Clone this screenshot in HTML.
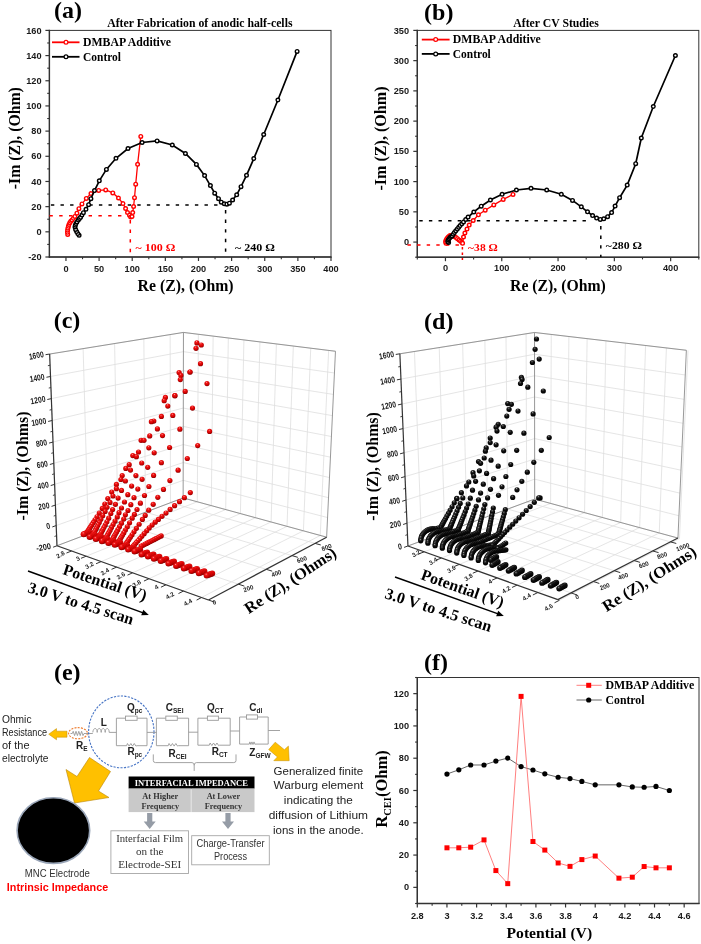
<!DOCTYPE html><html><head><meta charset="utf-8"><style>html,body{margin:0;padding:0;background:#fff;width:701px;height:944px;overflow:hidden}svg{display:block;will-change:transform}</style></head><body><svg width="701" height="944" viewBox="0 0 701 944"><defs>
<radialGradient id="rs" cx="0.45" cy="0.35" r="0.65" fx="0.42" fy="0.25">
<stop offset="0" stop-color="#ff9a9a"/><stop offset="0.25" stop-color="#f01818"/><stop offset="0.7" stop-color="#d00000"/><stop offset="1" stop-color="#8a0000"/></radialGradient>
<radialGradient id="ks" cx="0.45" cy="0.35" r="0.65" fx="0.42" fy="0.25">
<stop offset="0" stop-color="#b0b0b0"/><stop offset="0.18" stop-color="#3a3a3a"/><stop offset="0.5" stop-color="#0c0c0c"/><stop offset="1" stop-color="#000"/></radialGradient>
</defs><rect x="0" y="0" width="701" height="944" fill="#fff"/>
<text x="54.1" y="18.4" font-family="Liberation Serif" font-weight="bold" font-size="24" fill="#000">(a)</text>
<text x="107.2" y="26.6" font-family="Liberation Serif" font-weight="bold" font-size="11.7" fill="#000" textLength="185.3" lengthAdjust="spacingAndGlyphs">After Fabrication of anodic half-cells</text>
<rect x="49.4" y="30.4" width="281.6" height="226.6" fill="none" stroke="#333" stroke-width="1"/>
<line x1="49.4" y1="29.8" x2="49.4" y2="257.6" stroke="#333" stroke-width="1.4"/>
<line x1="48.8" y1="257" x2="331.6" y2="257" stroke="#333" stroke-width="1.4"/>
<line x1="65.96" y1="257" x2="65.96" y2="261" stroke="#333" stroke-width="1.2"/>
<line x1="99.09" y1="257" x2="99.09" y2="261" stroke="#333" stroke-width="1.2"/>
<line x1="132.22" y1="257" x2="132.22" y2="261" stroke="#333" stroke-width="1.2"/>
<line x1="165.35" y1="257" x2="165.35" y2="261" stroke="#333" stroke-width="1.2"/>
<line x1="198.48" y1="257" x2="198.48" y2="261" stroke="#333" stroke-width="1.2"/>
<line x1="231.61" y1="257" x2="231.61" y2="261" stroke="#333" stroke-width="1.2"/>
<line x1="264.74" y1="257" x2="264.74" y2="261" stroke="#333" stroke-width="1.2"/>
<line x1="297.87" y1="257" x2="297.87" y2="261" stroke="#333" stroke-width="1.2"/>
<line x1="331" y1="257" x2="331" y2="261" stroke="#333" stroke-width="1.2"/>
<line x1="82.53" y1="257" x2="82.53" y2="259.2" stroke="#333" stroke-width="1.1"/>
<line x1="115.66" y1="257" x2="115.66" y2="259.2" stroke="#333" stroke-width="1.1"/>
<line x1="148.79" y1="257" x2="148.79" y2="259.2" stroke="#333" stroke-width="1.1"/>
<line x1="181.92" y1="257" x2="181.92" y2="259.2" stroke="#333" stroke-width="1.1"/>
<line x1="215.05" y1="257" x2="215.05" y2="259.2" stroke="#333" stroke-width="1.1"/>
<line x1="248.18" y1="257" x2="248.18" y2="259.2" stroke="#333" stroke-width="1.1"/>
<line x1="281.31" y1="257" x2="281.31" y2="259.2" stroke="#333" stroke-width="1.1"/>
<line x1="314.44" y1="257" x2="314.44" y2="259.2" stroke="#333" stroke-width="1.1"/>
<line x1="45.4" y1="257" x2="49.4" y2="257" stroke="#333" stroke-width="1.2"/>
<line x1="45.4" y1="231.82" x2="49.4" y2="231.82" stroke="#333" stroke-width="1.2"/>
<line x1="45.4" y1="206.64" x2="49.4" y2="206.64" stroke="#333" stroke-width="1.2"/>
<line x1="45.4" y1="181.47" x2="49.4" y2="181.47" stroke="#333" stroke-width="1.2"/>
<line x1="45.4" y1="156.29" x2="49.4" y2="156.29" stroke="#333" stroke-width="1.2"/>
<line x1="45.4" y1="131.11" x2="49.4" y2="131.11" stroke="#333" stroke-width="1.2"/>
<line x1="45.4" y1="105.93" x2="49.4" y2="105.93" stroke="#333" stroke-width="1.2"/>
<line x1="45.4" y1="80.76" x2="49.4" y2="80.76" stroke="#333" stroke-width="1.2"/>
<line x1="45.4" y1="55.58" x2="49.4" y2="55.58" stroke="#333" stroke-width="1.2"/>
<line x1="45.4" y1="30.4" x2="49.4" y2="30.4" stroke="#333" stroke-width="1.2"/>
<line x1="47.2" y1="244.41" x2="49.4" y2="244.41" stroke="#333" stroke-width="1.1"/>
<line x1="47.2" y1="219.23" x2="49.4" y2="219.23" stroke="#333" stroke-width="1.1"/>
<line x1="47.2" y1="194.06" x2="49.4" y2="194.06" stroke="#333" stroke-width="1.1"/>
<line x1="47.2" y1="168.88" x2="49.4" y2="168.88" stroke="#333" stroke-width="1.1"/>
<line x1="47.2" y1="143.7" x2="49.4" y2="143.7" stroke="#333" stroke-width="1.1"/>
<line x1="47.2" y1="118.52" x2="49.4" y2="118.52" stroke="#333" stroke-width="1.1"/>
<line x1="47.2" y1="93.34" x2="49.4" y2="93.34" stroke="#333" stroke-width="1.1"/>
<line x1="47.2" y1="68.17" x2="49.4" y2="68.17" stroke="#333" stroke-width="1.1"/>
<line x1="47.2" y1="42.99" x2="49.4" y2="42.99" stroke="#333" stroke-width="1.1"/>
<text x="65.96" y="272" font-family="Liberation Sans" font-weight="bold" font-size="9.2" fill="#1a1a1a" text-anchor="middle">0</text>
<text x="99.09" y="272" font-family="Liberation Sans" font-weight="bold" font-size="9.2" fill="#1a1a1a" text-anchor="middle">50</text>
<text x="132.22" y="272" font-family="Liberation Sans" font-weight="bold" font-size="9.2" fill="#1a1a1a" text-anchor="middle">100</text>
<text x="165.35" y="272" font-family="Liberation Sans" font-weight="bold" font-size="9.2" fill="#1a1a1a" text-anchor="middle">150</text>
<text x="198.48" y="272" font-family="Liberation Sans" font-weight="bold" font-size="9.2" fill="#1a1a1a" text-anchor="middle">200</text>
<text x="231.61" y="272" font-family="Liberation Sans" font-weight="bold" font-size="9.2" fill="#1a1a1a" text-anchor="middle">250</text>
<text x="264.74" y="272" font-family="Liberation Sans" font-weight="bold" font-size="9.2" fill="#1a1a1a" text-anchor="middle">300</text>
<text x="297.87" y="272" font-family="Liberation Sans" font-weight="bold" font-size="9.2" fill="#1a1a1a" text-anchor="middle">350</text>
<text x="331" y="272" font-family="Liberation Sans" font-weight="bold" font-size="9.2" fill="#1a1a1a" text-anchor="middle">400</text>
<text x="41.6" y="260.1" font-family="Liberation Sans" font-weight="bold" font-size="9.2" fill="#1a1a1a" text-anchor="end">-20</text>
<text x="41.6" y="234.92" font-family="Liberation Sans" font-weight="bold" font-size="9.2" fill="#1a1a1a" text-anchor="end">0</text>
<text x="41.6" y="209.74" font-family="Liberation Sans" font-weight="bold" font-size="9.2" fill="#1a1a1a" text-anchor="end">20</text>
<text x="41.6" y="184.57" font-family="Liberation Sans" font-weight="bold" font-size="9.2" fill="#1a1a1a" text-anchor="end">40</text>
<text x="41.6" y="159.39" font-family="Liberation Sans" font-weight="bold" font-size="9.2" fill="#1a1a1a" text-anchor="end">60</text>
<text x="41.6" y="134.21" font-family="Liberation Sans" font-weight="bold" font-size="9.2" fill="#1a1a1a" text-anchor="end">80</text>
<text x="41.6" y="109.03" font-family="Liberation Sans" font-weight="bold" font-size="9.2" fill="#1a1a1a" text-anchor="end">100</text>
<text x="41.6" y="83.86" font-family="Liberation Sans" font-weight="bold" font-size="9.2" fill="#1a1a1a" text-anchor="end">120</text>
<text x="41.6" y="58.68" font-family="Liberation Sans" font-weight="bold" font-size="9.2" fill="#1a1a1a" text-anchor="end">140</text>
<text x="41.6" y="33.5" font-family="Liberation Sans" font-weight="bold" font-size="9.2" fill="#1a1a1a" text-anchor="end">160</text>
<line x1="49.4" y1="205" x2="226" y2="205" stroke="#000" stroke-width="1.5" stroke-dasharray="3.4,6.2" stroke-dashoffset="-1.5"/>
<line x1="225.6" y1="210" x2="225.6" y2="257" stroke="#000" stroke-width="1.5" stroke-dasharray="3.4,6.2"/>
<line x1="49.4" y1="215.8" x2="130.5" y2="215.8" stroke="#f00" stroke-width="1.5" stroke-dasharray="3.4,6.4"/>
<line x1="130.3" y1="220" x2="130.3" y2="257" stroke="#f00" stroke-width="1.5" stroke-dasharray="3.4,6.2"/>
<polyline points="67.7,234.4 67.5,232.3 67.6,230.2 67.9,228.2 68.4,226.3 69,224.5 69.8,222.8 70.8,221.3 72,219.9 73.4,218.3 74.9,216.4 76.9,213.2 78.9,208.7 82,203.9 86.3,198.4 91,193.6 98.7,190.4 105.7,189.9 112.8,192.9 118.5,198 123,203.6 125.6,208.5 127.5,212.6 129.5,215.2 130.7,217 132,216.5 132.7,212.6 133.6,206.5 134.5,197.7 135.7,184.2 137.6,164.3 140.8,136.4" fill="none" stroke="#f00" stroke-width="1.3"/>
<circle cx="67.7" cy="234.4" r="1.8" fill="#fff" stroke="#f00" stroke-width="1.4"/>
<circle cx="67.5" cy="232.3" r="1.8" fill="#fff" stroke="#f00" stroke-width="1.4"/>
<circle cx="67.6" cy="230.2" r="1.8" fill="#fff" stroke="#f00" stroke-width="1.4"/>
<circle cx="67.9" cy="228.2" r="1.8" fill="#fff" stroke="#f00" stroke-width="1.4"/>
<circle cx="68.4" cy="226.3" r="1.8" fill="#fff" stroke="#f00" stroke-width="1.4"/>
<circle cx="69" cy="224.5" r="1.8" fill="#fff" stroke="#f00" stroke-width="1.4"/>
<circle cx="69.8" cy="222.8" r="1.8" fill="#fff" stroke="#f00" stroke-width="1.4"/>
<circle cx="70.8" cy="221.3" r="1.8" fill="#fff" stroke="#f00" stroke-width="1.4"/>
<circle cx="72" cy="219.9" r="1.8" fill="#fff" stroke="#f00" stroke-width="1.4"/>
<circle cx="73.4" cy="218.3" r="1.8" fill="#fff" stroke="#f00" stroke-width="1.4"/>
<circle cx="74.9" cy="216.4" r="1.8" fill="#fff" stroke="#f00" stroke-width="1.4"/>
<circle cx="76.9" cy="213.2" r="1.8" fill="#fff" stroke="#f00" stroke-width="1.4"/>
<circle cx="78.9" cy="208.7" r="1.8" fill="#fff" stroke="#f00" stroke-width="1.4"/>
<circle cx="82" cy="203.9" r="1.8" fill="#fff" stroke="#f00" stroke-width="1.4"/>
<circle cx="86.3" cy="198.4" r="1.8" fill="#fff" stroke="#f00" stroke-width="1.4"/>
<circle cx="91" cy="193.6" r="1.8" fill="#fff" stroke="#f00" stroke-width="1.4"/>
<circle cx="98.7" cy="190.4" r="1.8" fill="#fff" stroke="#f00" stroke-width="1.4"/>
<circle cx="105.7" cy="189.9" r="1.8" fill="#fff" stroke="#f00" stroke-width="1.4"/>
<circle cx="112.8" cy="192.9" r="1.8" fill="#fff" stroke="#f00" stroke-width="1.4"/>
<circle cx="118.5" cy="198" r="1.8" fill="#fff" stroke="#f00" stroke-width="1.4"/>
<circle cx="123" cy="203.6" r="1.8" fill="#fff" stroke="#f00" stroke-width="1.4"/>
<circle cx="125.6" cy="208.5" r="1.8" fill="#fff" stroke="#f00" stroke-width="1.4"/>
<circle cx="127.5" cy="212.6" r="1.8" fill="#fff" stroke="#f00" stroke-width="1.4"/>
<circle cx="129.5" cy="215.2" r="1.8" fill="#fff" stroke="#f00" stroke-width="1.4"/>
<circle cx="130.7" cy="217" r="1.8" fill="#fff" stroke="#f00" stroke-width="1.4"/>
<circle cx="132" cy="216.5" r="1.8" fill="#fff" stroke="#f00" stroke-width="1.4"/>
<circle cx="132.7" cy="212.6" r="1.8" fill="#fff" stroke="#f00" stroke-width="1.4"/>
<circle cx="133.6" cy="206.5" r="1.8" fill="#fff" stroke="#f00" stroke-width="1.4"/>
<circle cx="134.5" cy="197.7" r="1.8" fill="#fff" stroke="#f00" stroke-width="1.4"/>
<circle cx="135.7" cy="184.2" r="1.8" fill="#fff" stroke="#f00" stroke-width="1.4"/>
<circle cx="137.6" cy="164.3" r="1.8" fill="#fff" stroke="#f00" stroke-width="1.4"/>
<circle cx="140.8" cy="136.4" r="1.8" fill="#fff" stroke="#f00" stroke-width="1.4"/>
<polyline points="79.1,235.3 77.8,233.6 76.6,231.6 75.6,229.4 75,227 75.3,225.2 76,223.6 77,221.9 78.3,220.1 79.4,218.6 80.6,217.3 82,215 83.4,212.7 86,209.3 88.6,204.7 90.9,198.7 94.5,190.6 99.3,180.8 106.4,169.4 116,158.3 128,148.5 142.1,142.5 157.1,140.9 172.3,145 185.4,153.5 196.4,164.4 204.6,175.6 210.4,185.6 214.7,193.2 218.5,198.7 221.3,202.2 224.3,203.8 226.9,204.2 229.4,203.2 232.6,200 236.7,194.8 241,186.7 246.5,175.3 253.8,158.6 263.7,134.5 277.9,100 297.1,51.4" fill="none" stroke="#000" stroke-width="1.7"/>
<circle cx="79.1" cy="235.3" r="1.8" fill="#fff" stroke="#000" stroke-width="1.4"/>
<circle cx="77.8" cy="233.6" r="1.8" fill="#fff" stroke="#000" stroke-width="1.4"/>
<circle cx="76.6" cy="231.6" r="1.8" fill="#fff" stroke="#000" stroke-width="1.4"/>
<circle cx="75.6" cy="229.4" r="1.8" fill="#fff" stroke="#000" stroke-width="1.4"/>
<circle cx="75" cy="227" r="1.8" fill="#fff" stroke="#000" stroke-width="1.4"/>
<circle cx="75.3" cy="225.2" r="1.8" fill="#fff" stroke="#000" stroke-width="1.4"/>
<circle cx="76" cy="223.6" r="1.8" fill="#fff" stroke="#000" stroke-width="1.4"/>
<circle cx="77" cy="221.9" r="1.8" fill="#fff" stroke="#000" stroke-width="1.4"/>
<circle cx="78.3" cy="220.1" r="1.8" fill="#fff" stroke="#000" stroke-width="1.4"/>
<circle cx="79.4" cy="218.6" r="1.8" fill="#fff" stroke="#000" stroke-width="1.4"/>
<circle cx="80.6" cy="217.3" r="1.8" fill="#fff" stroke="#000" stroke-width="1.4"/>
<circle cx="82" cy="215" r="1.8" fill="#fff" stroke="#000" stroke-width="1.4"/>
<circle cx="83.4" cy="212.7" r="1.8" fill="#fff" stroke="#000" stroke-width="1.4"/>
<circle cx="86" cy="209.3" r="1.8" fill="#fff" stroke="#000" stroke-width="1.4"/>
<circle cx="88.6" cy="204.7" r="1.8" fill="#fff" stroke="#000" stroke-width="1.4"/>
<circle cx="90.9" cy="198.7" r="1.8" fill="#fff" stroke="#000" stroke-width="1.4"/>
<circle cx="94.5" cy="190.6" r="1.8" fill="#fff" stroke="#000" stroke-width="1.4"/>
<circle cx="99.3" cy="180.8" r="1.8" fill="#fff" stroke="#000" stroke-width="1.4"/>
<circle cx="106.4" cy="169.4" r="1.8" fill="#fff" stroke="#000" stroke-width="1.4"/>
<circle cx="116" cy="158.3" r="1.8" fill="#fff" stroke="#000" stroke-width="1.4"/>
<circle cx="128" cy="148.5" r="1.8" fill="#fff" stroke="#000" stroke-width="1.4"/>
<circle cx="142.1" cy="142.5" r="1.8" fill="#fff" stroke="#000" stroke-width="1.4"/>
<circle cx="157.1" cy="140.9" r="1.8" fill="#fff" stroke="#000" stroke-width="1.4"/>
<circle cx="172.3" cy="145" r="1.8" fill="#fff" stroke="#000" stroke-width="1.4"/>
<circle cx="185.4" cy="153.5" r="1.8" fill="#fff" stroke="#000" stroke-width="1.4"/>
<circle cx="196.4" cy="164.4" r="1.8" fill="#fff" stroke="#000" stroke-width="1.4"/>
<circle cx="204.6" cy="175.6" r="1.8" fill="#fff" stroke="#000" stroke-width="1.4"/>
<circle cx="210.4" cy="185.6" r="1.8" fill="#fff" stroke="#000" stroke-width="1.4"/>
<circle cx="214.7" cy="193.2" r="1.8" fill="#fff" stroke="#000" stroke-width="1.4"/>
<circle cx="218.5" cy="198.7" r="1.8" fill="#fff" stroke="#000" stroke-width="1.4"/>
<circle cx="221.3" cy="202.2" r="1.8" fill="#fff" stroke="#000" stroke-width="1.4"/>
<circle cx="224.3" cy="203.8" r="1.8" fill="#fff" stroke="#000" stroke-width="1.4"/>
<circle cx="226.9" cy="204.2" r="1.8" fill="#fff" stroke="#000" stroke-width="1.4"/>
<circle cx="229.4" cy="203.2" r="1.8" fill="#fff" stroke="#000" stroke-width="1.4"/>
<circle cx="232.6" cy="200" r="1.8" fill="#fff" stroke="#000" stroke-width="1.4"/>
<circle cx="236.7" cy="194.8" r="1.8" fill="#fff" stroke="#000" stroke-width="1.4"/>
<circle cx="241" cy="186.7" r="1.8" fill="#fff" stroke="#000" stroke-width="1.4"/>
<circle cx="246.5" cy="175.3" r="1.8" fill="#fff" stroke="#000" stroke-width="1.4"/>
<circle cx="253.8" cy="158.6" r="1.8" fill="#fff" stroke="#000" stroke-width="1.4"/>
<circle cx="263.7" cy="134.5" r="1.8" fill="#fff" stroke="#000" stroke-width="1.4"/>
<circle cx="277.9" cy="100" r="1.8" fill="#fff" stroke="#000" stroke-width="1.4"/>
<circle cx="297.1" cy="51.4" r="1.8" fill="#fff" stroke="#000" stroke-width="1.4"/>
<line x1="52" y1="42.3" x2="79.5" y2="42.3" stroke="#f00" stroke-width="1.8"/>
<circle cx="66" cy="42.3" r="1.9" fill="#fff" stroke="#f00" stroke-width="1.25"/>
<line x1="52" y1="56.8" x2="79.5" y2="56.8" stroke="#000" stroke-width="1.8"/>
<circle cx="66" cy="56.8" r="1.9" fill="#fff" stroke="#000" stroke-width="1.25"/>
<text x="83" y="45.8" font-family="Liberation Serif" font-weight="bold" font-size="11.6" fill="#000" textLength="88" lengthAdjust="spacingAndGlyphs">DMBAP Additive</text>
<text x="83" y="60.8" font-family="Liberation Serif" font-weight="bold" font-size="11.6" fill="#000" textLength="38" lengthAdjust="spacingAndGlyphs">Control</text>
<text x="135.6" y="251.4" font-family="Liberation Serif" font-weight="bold" font-size="11" fill="#f00" textLength="39.8" lengthAdjust="spacingAndGlyphs">~ 100 &#937;</text>
<text x="235" y="251.4" font-family="Liberation Serif" font-weight="bold" font-size="11" fill="#000" textLength="40" lengthAdjust="spacingAndGlyphs">~ 240 &#937;</text>
<text x="137.6" y="291" font-family="Liberation Serif" font-weight="bold" font-size="16" fill="#000" textLength="96" lengthAdjust="spacingAndGlyphs">Re (Z), (Ohm)</text>
<text transform="translate(19.9,138.2) rotate(-90)" text-anchor="middle" font-family="Liberation Serif" font-weight="bold" font-size="16" textLength="102" lengthAdjust="spacingAndGlyphs">-Im (Z), (Ohm)</text>
<text x="424.1" y="20.3" font-family="Liberation Serif" font-weight="bold" font-size="24" fill="#000">(b)</text>
<text x="513.3" y="27.1" font-family="Liberation Serif" font-weight="bold" font-size="11.7" fill="#000" textLength="85.6" lengthAdjust="spacingAndGlyphs">After CV Studies</text>
<rect x="417.3" y="30.4" width="281.5" height="226.8" fill="none" stroke="#333" stroke-width="1"/>
<line x1="417.3" y1="29.8" x2="417.3" y2="257.8" stroke="#333" stroke-width="1.4"/>
<line x1="416.7" y1="257.2" x2="699.4" y2="257.2" stroke="#333" stroke-width="1.4"/>
<line x1="445.45" y1="257.2" x2="445.45" y2="261.2" stroke="#333" stroke-width="1.2"/>
<line x1="501.75" y1="257.2" x2="501.75" y2="261.2" stroke="#333" stroke-width="1.2"/>
<line x1="558.05" y1="257.2" x2="558.05" y2="261.2" stroke="#333" stroke-width="1.2"/>
<line x1="614.35" y1="257.2" x2="614.35" y2="261.2" stroke="#333" stroke-width="1.2"/>
<line x1="670.65" y1="257.2" x2="670.65" y2="261.2" stroke="#333" stroke-width="1.2"/>
<line x1="417.3" y1="257.2" x2="417.3" y2="259.4" stroke="#333" stroke-width="1.1"/>
<line x1="473.6" y1="257.2" x2="473.6" y2="259.4" stroke="#333" stroke-width="1.1"/>
<line x1="529.9" y1="257.2" x2="529.9" y2="259.4" stroke="#333" stroke-width="1.1"/>
<line x1="586.2" y1="257.2" x2="586.2" y2="259.4" stroke="#333" stroke-width="1.1"/>
<line x1="642.5" y1="257.2" x2="642.5" y2="259.4" stroke="#333" stroke-width="1.1"/>
<line x1="698.8" y1="257.2" x2="698.8" y2="259.4" stroke="#333" stroke-width="1.1"/>
<line x1="413.3" y1="242.08" x2="417.3" y2="242.08" stroke="#333" stroke-width="1.2"/>
<line x1="413.3" y1="211.84" x2="417.3" y2="211.84" stroke="#333" stroke-width="1.2"/>
<line x1="413.3" y1="181.6" x2="417.3" y2="181.6" stroke="#333" stroke-width="1.2"/>
<line x1="413.3" y1="151.36" x2="417.3" y2="151.36" stroke="#333" stroke-width="1.2"/>
<line x1="413.3" y1="121.12" x2="417.3" y2="121.12" stroke="#333" stroke-width="1.2"/>
<line x1="413.3" y1="90.88" x2="417.3" y2="90.88" stroke="#333" stroke-width="1.2"/>
<line x1="413.3" y1="60.64" x2="417.3" y2="60.64" stroke="#333" stroke-width="1.2"/>
<line x1="413.3" y1="30.4" x2="417.3" y2="30.4" stroke="#333" stroke-width="1.2"/>
<line x1="415.1" y1="257.2" x2="417.3" y2="257.2" stroke="#333" stroke-width="1.1"/>
<line x1="415.1" y1="226.96" x2="417.3" y2="226.96" stroke="#333" stroke-width="1.1"/>
<line x1="415.1" y1="196.72" x2="417.3" y2="196.72" stroke="#333" stroke-width="1.1"/>
<line x1="415.1" y1="166.48" x2="417.3" y2="166.48" stroke="#333" stroke-width="1.1"/>
<line x1="415.1" y1="136.24" x2="417.3" y2="136.24" stroke="#333" stroke-width="1.1"/>
<line x1="415.1" y1="106" x2="417.3" y2="106" stroke="#333" stroke-width="1.1"/>
<line x1="415.1" y1="75.76" x2="417.3" y2="75.76" stroke="#333" stroke-width="1.1"/>
<line x1="415.1" y1="45.52" x2="417.3" y2="45.52" stroke="#333" stroke-width="1.1"/>
<text x="445.45" y="271.4" font-family="Liberation Sans" font-weight="bold" font-size="9.2" fill="#1a1a1a" text-anchor="middle">0</text>
<text x="501.75" y="271.4" font-family="Liberation Sans" font-weight="bold" font-size="9.2" fill="#1a1a1a" text-anchor="middle">100</text>
<text x="558.05" y="271.4" font-family="Liberation Sans" font-weight="bold" font-size="9.2" fill="#1a1a1a" text-anchor="middle">200</text>
<text x="614.35" y="271.4" font-family="Liberation Sans" font-weight="bold" font-size="9.2" fill="#1a1a1a" text-anchor="middle">300</text>
<text x="670.65" y="271.4" font-family="Liberation Sans" font-weight="bold" font-size="9.2" fill="#1a1a1a" text-anchor="middle">400</text>
<text x="409" y="245.18" font-family="Liberation Sans" font-weight="bold" font-size="9.2" fill="#1a1a1a" text-anchor="end">0</text>
<text x="409" y="214.94" font-family="Liberation Sans" font-weight="bold" font-size="9.2" fill="#1a1a1a" text-anchor="end">50</text>
<text x="409" y="184.7" font-family="Liberation Sans" font-weight="bold" font-size="9.2" fill="#1a1a1a" text-anchor="end">100</text>
<text x="409" y="154.46" font-family="Liberation Sans" font-weight="bold" font-size="9.2" fill="#1a1a1a" text-anchor="end">150</text>
<text x="409" y="124.22" font-family="Liberation Sans" font-weight="bold" font-size="9.2" fill="#1a1a1a" text-anchor="end">200</text>
<text x="409" y="93.98" font-family="Liberation Sans" font-weight="bold" font-size="9.2" fill="#1a1a1a" text-anchor="end">250</text>
<text x="409" y="63.74" font-family="Liberation Sans" font-weight="bold" font-size="9.2" fill="#1a1a1a" text-anchor="end">300</text>
<text x="409" y="33.5" font-family="Liberation Sans" font-weight="bold" font-size="9.2" fill="#1a1a1a" text-anchor="end">350</text>
<line x1="417.3" y1="220.7" x2="591" y2="220.7" stroke="#000" stroke-width="1.5" stroke-dasharray="3.4,6.2" stroke-dashoffset="-2"/>
<line x1="600.8" y1="226" x2="600.8" y2="257" stroke="#000" stroke-width="1.5" stroke-dasharray="3.4,6.2"/>
<line x1="407.5" y1="245" x2="462" y2="245" stroke="#f00" stroke-width="1.5" stroke-dasharray="3.4,6.2"/>
<line x1="462.4" y1="247" x2="462.4" y2="260" stroke="#f00" stroke-width="1.5" stroke-dasharray="2.5,3"/>
<polyline points="446,243.3 445.6,241.8 446,240.2 446.8,238.8 447.8,237.5 448.8,236.4 450,235.6 451.5,235.5 453,235.9 454.5,236.6 456,237.6 457.5,238.7 459,239.9 460.5,241.1 461.8,242.3 462.6,243.3 463.5,237 464.9,233 467,229.1 469.2,225.1 473.2,220.5 478.4,214.8 485.2,210.2 493.8,204.9 503.2,199.4 513,194.4" fill="none" stroke="#f00" stroke-width="1.3"/>
<circle cx="446" cy="243.3" r="1.8" fill="#fff" stroke="#f00" stroke-width="1.4"/>
<circle cx="445.6" cy="241.8" r="1.8" fill="#fff" stroke="#f00" stroke-width="1.4"/>
<circle cx="446" cy="240.2" r="1.8" fill="#fff" stroke="#f00" stroke-width="1.4"/>
<circle cx="446.8" cy="238.8" r="1.8" fill="#fff" stroke="#f00" stroke-width="1.4"/>
<circle cx="447.8" cy="237.5" r="1.8" fill="#fff" stroke="#f00" stroke-width="1.4"/>
<circle cx="448.8" cy="236.4" r="1.8" fill="#fff" stroke="#f00" stroke-width="1.4"/>
<circle cx="450" cy="235.6" r="1.8" fill="#fff" stroke="#f00" stroke-width="1.4"/>
<circle cx="451.5" cy="235.5" r="1.8" fill="#fff" stroke="#f00" stroke-width="1.4"/>
<circle cx="453" cy="235.9" r="1.8" fill="#fff" stroke="#f00" stroke-width="1.4"/>
<circle cx="454.5" cy="236.6" r="1.8" fill="#fff" stroke="#f00" stroke-width="1.4"/>
<circle cx="456" cy="237.6" r="1.8" fill="#fff" stroke="#f00" stroke-width="1.4"/>
<circle cx="457.5" cy="238.7" r="1.8" fill="#fff" stroke="#f00" stroke-width="1.4"/>
<circle cx="459" cy="239.9" r="1.8" fill="#fff" stroke="#f00" stroke-width="1.4"/>
<circle cx="460.5" cy="241.1" r="1.8" fill="#fff" stroke="#f00" stroke-width="1.4"/>
<circle cx="461.8" cy="242.3" r="1.8" fill="#fff" stroke="#f00" stroke-width="1.4"/>
<circle cx="462.6" cy="243.3" r="1.8" fill="#fff" stroke="#f00" stroke-width="1.4"/>
<circle cx="463.5" cy="237" r="1.8" fill="#fff" stroke="#f00" stroke-width="1.4"/>
<circle cx="464.9" cy="233" r="1.8" fill="#fff" stroke="#f00" stroke-width="1.4"/>
<circle cx="467" cy="229.1" r="1.8" fill="#fff" stroke="#f00" stroke-width="1.4"/>
<circle cx="469.2" cy="225.1" r="1.8" fill="#fff" stroke="#f00" stroke-width="1.4"/>
<circle cx="473.2" cy="220.5" r="1.8" fill="#fff" stroke="#f00" stroke-width="1.4"/>
<circle cx="478.4" cy="214.8" r="1.8" fill="#fff" stroke="#f00" stroke-width="1.4"/>
<circle cx="485.2" cy="210.2" r="1.8" fill="#fff" stroke="#f00" stroke-width="1.4"/>
<circle cx="493.8" cy="204.9" r="1.8" fill="#fff" stroke="#f00" stroke-width="1.4"/>
<circle cx="503.2" cy="199.4" r="1.8" fill="#fff" stroke="#f00" stroke-width="1.4"/>
<circle cx="513" cy="194.4" r="1.8" fill="#fff" stroke="#f00" stroke-width="1.4"/>
<polyline points="448.6,242.6 447.8,241.4 448.2,240 449,238.7 450,237.4 451,236.6 452.1,235.9 453.2,234.2 454.4,232.5 455.8,230.8 457.3,229.1 458.7,227.3 460.1,225.6 461.8,223.8 463.5,221.9 465.7,219.5 468.1,217.1 473.8,212 481.2,206.2 490.4,200 502.1,194.3 516.4,190 531,188.3 546.7,190 561.3,194.3 572.5,200.4 581.3,206.8 587.5,211.8 592.6,215.6 596.6,218.1 600.3,219.4 603.8,218.8 607.6,216.7 611.6,212.6 615.1,206.1 619.6,197.7 627.2,185.1 635.7,163.7 641.3,138 653.3,106.5 675.4,55.5" fill="none" stroke="#000" stroke-width="1.7"/>
<circle cx="448.6" cy="242.6" r="1.8" fill="#fff" stroke="#000" stroke-width="1.4"/>
<circle cx="447.8" cy="241.4" r="1.8" fill="#fff" stroke="#000" stroke-width="1.4"/>
<circle cx="448.2" cy="240" r="1.8" fill="#fff" stroke="#000" stroke-width="1.4"/>
<circle cx="449" cy="238.7" r="1.8" fill="#fff" stroke="#000" stroke-width="1.4"/>
<circle cx="450" cy="237.4" r="1.8" fill="#fff" stroke="#000" stroke-width="1.4"/>
<circle cx="451" cy="236.6" r="1.8" fill="#fff" stroke="#000" stroke-width="1.4"/>
<circle cx="452.1" cy="235.9" r="1.8" fill="#fff" stroke="#000" stroke-width="1.4"/>
<circle cx="453.2" cy="234.2" r="1.8" fill="#fff" stroke="#000" stroke-width="1.4"/>
<circle cx="454.4" cy="232.5" r="1.8" fill="#fff" stroke="#000" stroke-width="1.4"/>
<circle cx="455.8" cy="230.8" r="1.8" fill="#fff" stroke="#000" stroke-width="1.4"/>
<circle cx="457.3" cy="229.1" r="1.8" fill="#fff" stroke="#000" stroke-width="1.4"/>
<circle cx="458.7" cy="227.3" r="1.8" fill="#fff" stroke="#000" stroke-width="1.4"/>
<circle cx="460.1" cy="225.6" r="1.8" fill="#fff" stroke="#000" stroke-width="1.4"/>
<circle cx="461.8" cy="223.8" r="1.8" fill="#fff" stroke="#000" stroke-width="1.4"/>
<circle cx="463.5" cy="221.9" r="1.8" fill="#fff" stroke="#000" stroke-width="1.4"/>
<circle cx="465.7" cy="219.5" r="1.8" fill="#fff" stroke="#000" stroke-width="1.4"/>
<circle cx="468.1" cy="217.1" r="1.8" fill="#fff" stroke="#000" stroke-width="1.4"/>
<circle cx="473.8" cy="212" r="1.8" fill="#fff" stroke="#000" stroke-width="1.4"/>
<circle cx="481.2" cy="206.2" r="1.8" fill="#fff" stroke="#000" stroke-width="1.4"/>
<circle cx="490.4" cy="200" r="1.8" fill="#fff" stroke="#000" stroke-width="1.4"/>
<circle cx="502.1" cy="194.3" r="1.8" fill="#fff" stroke="#000" stroke-width="1.4"/>
<circle cx="516.4" cy="190" r="1.8" fill="#fff" stroke="#000" stroke-width="1.4"/>
<circle cx="531" cy="188.3" r="1.8" fill="#fff" stroke="#000" stroke-width="1.4"/>
<circle cx="546.7" cy="190" r="1.8" fill="#fff" stroke="#000" stroke-width="1.4"/>
<circle cx="561.3" cy="194.3" r="1.8" fill="#fff" stroke="#000" stroke-width="1.4"/>
<circle cx="572.5" cy="200.4" r="1.8" fill="#fff" stroke="#000" stroke-width="1.4"/>
<circle cx="581.3" cy="206.8" r="1.8" fill="#fff" stroke="#000" stroke-width="1.4"/>
<circle cx="587.5" cy="211.8" r="1.8" fill="#fff" stroke="#000" stroke-width="1.4"/>
<circle cx="592.6" cy="215.6" r="1.8" fill="#fff" stroke="#000" stroke-width="1.4"/>
<circle cx="596.6" cy="218.1" r="1.8" fill="#fff" stroke="#000" stroke-width="1.4"/>
<circle cx="600.3" cy="219.4" r="1.8" fill="#fff" stroke="#000" stroke-width="1.4"/>
<circle cx="603.8" cy="218.8" r="1.8" fill="#fff" stroke="#000" stroke-width="1.4"/>
<circle cx="607.6" cy="216.7" r="1.8" fill="#fff" stroke="#000" stroke-width="1.4"/>
<circle cx="611.6" cy="212.6" r="1.8" fill="#fff" stroke="#000" stroke-width="1.4"/>
<circle cx="615.1" cy="206.1" r="1.8" fill="#fff" stroke="#000" stroke-width="1.4"/>
<circle cx="619.6" cy="197.7" r="1.8" fill="#fff" stroke="#000" stroke-width="1.4"/>
<circle cx="627.2" cy="185.1" r="1.8" fill="#fff" stroke="#000" stroke-width="1.4"/>
<circle cx="635.7" cy="163.7" r="1.8" fill="#fff" stroke="#000" stroke-width="1.4"/>
<circle cx="641.3" cy="138" r="1.8" fill="#fff" stroke="#000" stroke-width="1.4"/>
<circle cx="653.3" cy="106.5" r="1.8" fill="#fff" stroke="#000" stroke-width="1.4"/>
<circle cx="675.4" cy="55.5" r="1.8" fill="#fff" stroke="#000" stroke-width="1.4"/>
<line x1="421.8" y1="39.6" x2="449.6" y2="39.6" stroke="#f00" stroke-width="1.8"/>
<circle cx="435.7" cy="39.6" r="1.9" fill="#fff" stroke="#f00" stroke-width="1.25"/>
<line x1="421.8" y1="53.9" x2="449.6" y2="53.9" stroke="#000" stroke-width="1.8"/>
<circle cx="435.7" cy="53.9" r="1.9" fill="#fff" stroke="#000" stroke-width="1.25"/>
<text x="452.8" y="42.8" font-family="Liberation Serif" font-weight="bold" font-size="11.6" fill="#000" textLength="88" lengthAdjust="spacingAndGlyphs">DMBAP Additive</text>
<text x="452.8" y="57.6" font-family="Liberation Serif" font-weight="bold" font-size="11.6" fill="#000" textLength="38" lengthAdjust="spacingAndGlyphs">Control</text>
<text x="468.1" y="251.3" font-family="Liberation Serif" font-weight="bold" font-size="11" fill="#f00" textLength="29.7" lengthAdjust="spacingAndGlyphs">~38 &#937;</text>
<text x="605.8" y="248.6" font-family="Liberation Serif" font-weight="bold" font-size="11" fill="#000" textLength="36.2" lengthAdjust="spacingAndGlyphs">~280 &#937;</text>
<text x="510" y="290.6" font-family="Liberation Serif" font-weight="bold" font-size="16" fill="#000" textLength="95.8" lengthAdjust="spacingAndGlyphs">Re (Z), (Ohm)</text>
<text transform="translate(386,138.5) rotate(-90)" text-anchor="middle" font-family="Liberation Serif" font-weight="bold" font-size="16" textLength="104" lengthAdjust="spacingAndGlyphs">-Im (Z), (Ohm)</text>
<text x="53.7" y="328.4" font-family="Liberation Serif" font-weight="bold" font-size="24" fill="#000">(c)</text>
<line x1="71.62" y1="550.99" x2="197.29" y2="501.78" stroke="#dedede" stroke-width="0.8"/>
<line x1="86.19" y1="556.21" x2="211.31" y2="505.62" stroke="#dedede" stroke-width="0.8"/>
<line x1="101.2" y1="561.58" x2="225.69" y2="509.55" stroke="#dedede" stroke-width="0.8"/>
<line x1="116.67" y1="567.12" x2="240.43" y2="513.59" stroke="#dedede" stroke-width="0.8"/>
<line x1="132.6" y1="572.82" x2="255.57" y2="517.73" stroke="#dedede" stroke-width="0.8"/>
<line x1="149.04" y1="578.7" x2="271.1" y2="521.98" stroke="#dedede" stroke-width="0.8"/>
<line x1="166" y1="584.77" x2="287.04" y2="526.35" stroke="#dedede" stroke-width="0.8"/>
<line x1="183.5" y1="591.04" x2="303.42" y2="530.83" stroke="#dedede" stroke-width="0.8"/>
<line x1="201.57" y1="597.5" x2="320.25" y2="535.44" stroke="#dedede" stroke-width="0.8"/>
<line x1="56.97" y1="545.75" x2="208.46" y2="599.97" stroke="#dedede" stroke-width="0.8"/>
<line x1="88.33" y1="533.86" x2="238.32" y2="584.11" stroke="#dedede" stroke-width="0.8"/>
<line x1="117.93" y1="522.63" x2="266.21" y2="569.29" stroke="#dedede" stroke-width="0.8"/>
<line x1="145.55" y1="512.16" x2="291.97" y2="555.6" stroke="#dedede" stroke-width="0.8"/>
<line x1="170.49" y1="502.7" x2="315.02" y2="543.36" stroke="#dedede" stroke-width="0.8"/>
<line x1="56.97" y1="545.75" x2="49.65" y2="354.04" stroke="#dedede" stroke-width="0.8"/>
<line x1="88.33" y1="533.86" x2="83.13" y2="348.63" stroke="#dedede" stroke-width="0.8"/>
<line x1="117.93" y1="522.63" x2="114.6" y2="343.55" stroke="#dedede" stroke-width="0.8"/>
<line x1="145.55" y1="512.16" x2="143.84" y2="338.83" stroke="#dedede" stroke-width="0.8"/>
<line x1="170.49" y1="502.7" x2="170.15" y2="334.58" stroke="#dedede" stroke-width="0.8"/>
<line x1="56.97" y1="545.75" x2="183.14" y2="497.91" stroke="#dedede" stroke-width="0.8"/>
<line x1="56.2" y1="525.55" x2="183.17" y2="480.33" stroke="#dedede" stroke-width="0.8"/>
<line x1="55.42" y1="505.08" x2="183.21" y2="462.56" stroke="#dedede" stroke-width="0.8"/>
<line x1="54.63" y1="484.35" x2="183.24" y2="444.59" stroke="#dedede" stroke-width="0.8"/>
<line x1="53.82" y1="463.34" x2="183.28" y2="426.42" stroke="#dedede" stroke-width="0.8"/>
<line x1="53.01" y1="442.06" x2="183.31" y2="408.05" stroke="#dedede" stroke-width="0.8"/>
<line x1="52.19" y1="420.49" x2="183.35" y2="389.46" stroke="#dedede" stroke-width="0.8"/>
<line x1="51.35" y1="398.64" x2="183.39" y2="370.67" stroke="#dedede" stroke-width="0.8"/>
<line x1="50.51" y1="376.49" x2="183.42" y2="351.66" stroke="#dedede" stroke-width="0.8"/>
<line x1="49.65" y1="354.04" x2="183.46" y2="332.43" stroke="#dedede" stroke-width="0.8"/>
<line x1="197.29" y1="501.78" x2="198.36" y2="334.27" stroke="#dedede" stroke-width="0.8"/>
<line x1="211.31" y1="505.62" x2="213.14" y2="336.1" stroke="#dedede" stroke-width="0.8"/>
<line x1="225.69" y1="509.55" x2="228.32" y2="337.99" stroke="#dedede" stroke-width="0.8"/>
<line x1="240.43" y1="513.59" x2="243.91" y2="339.92" stroke="#dedede" stroke-width="0.8"/>
<line x1="255.57" y1="517.73" x2="259.93" y2="341.9" stroke="#dedede" stroke-width="0.8"/>
<line x1="271.1" y1="521.98" x2="276.4" y2="343.94" stroke="#dedede" stroke-width="0.8"/>
<line x1="287.04" y1="526.35" x2="293.33" y2="346.04" stroke="#dedede" stroke-width="0.8"/>
<line x1="303.42" y1="530.83" x2="310.74" y2="348.2" stroke="#dedede" stroke-width="0.8"/>
<line x1="320.25" y1="535.44" x2="328.67" y2="350.42" stroke="#dedede" stroke-width="0.8"/>
<line x1="183.14" y1="497.91" x2="326.64" y2="537.18" stroke="#dedede" stroke-width="0.8"/>
<line x1="183.17" y1="480.33" x2="327.57" y2="517.56" stroke="#dedede" stroke-width="0.8"/>
<line x1="183.21" y1="462.56" x2="328.52" y2="497.68" stroke="#dedede" stroke-width="0.8"/>
<line x1="183.24" y1="444.59" x2="329.47" y2="477.56" stroke="#dedede" stroke-width="0.8"/>
<line x1="183.28" y1="426.42" x2="330.44" y2="457.18" stroke="#dedede" stroke-width="0.8"/>
<line x1="183.31" y1="408.05" x2="331.42" y2="436.53" stroke="#dedede" stroke-width="0.8"/>
<line x1="183.35" y1="389.46" x2="332.42" y2="415.63" stroke="#dedede" stroke-width="0.8"/>
<line x1="183.39" y1="370.67" x2="333.43" y2="394.45" stroke="#dedede" stroke-width="0.8"/>
<line x1="183.42" y1="351.66" x2="334.45" y2="372.99" stroke="#dedede" stroke-width="0.8"/>
<line x1="183.46" y1="332.43" x2="335.48" y2="351.26" stroke="#dedede" stroke-width="0.8"/>
<line x1="49.65" y1="354.04" x2="183.46" y2="332.43" stroke="#8c8c8c" stroke-width="0.9"/>
<line x1="183.14" y1="497.91" x2="183.46" y2="332.43" stroke="#8c8c8c" stroke-width="0.9"/>
<line x1="183.46" y1="332.43" x2="335.48" y2="351.26" stroke="#8c8c8c" stroke-width="0.9"/>
<line x1="326.64" y1="537.18" x2="335.48" y2="351.26" stroke="#8c8c8c" stroke-width="0.9"/>
<line x1="56.97" y1="545.75" x2="183.14" y2="497.91" stroke="#8c8c8c" stroke-width="0.9"/>
<line x1="183.14" y1="497.91" x2="326.64" y2="537.18" stroke="#8c8c8c" stroke-width="0.9"/>
<line x1="56.97" y1="545.75" x2="49.65" y2="354.04" stroke="#333" stroke-width="1.2"/>
<line x1="56.97" y1="545.75" x2="208.46" y2="599.97" stroke="#333" stroke-width="1.2"/>
<line x1="208.46" y1="599.97" x2="326.64" y2="537.18" stroke="#333" stroke-width="1.2"/>
<line x1="56.97" y1="545.75" x2="53.13" y2="547.21" stroke="#333" stroke-width="1"/>
<line x1="56.2" y1="525.55" x2="52.33" y2="526.93" stroke="#333" stroke-width="1"/>
<line x1="55.42" y1="505.08" x2="51.52" y2="506.38" stroke="#333" stroke-width="1"/>
<line x1="54.63" y1="484.35" x2="50.7" y2="485.56" stroke="#333" stroke-width="1"/>
<line x1="53.82" y1="463.34" x2="49.87" y2="464.47" stroke="#333" stroke-width="1"/>
<line x1="53.01" y1="442.06" x2="49.02" y2="443.1" stroke="#333" stroke-width="1"/>
<line x1="52.19" y1="420.49" x2="48.17" y2="421.44" stroke="#333" stroke-width="1"/>
<line x1="51.35" y1="398.64" x2="47.31" y2="399.5" stroke="#333" stroke-width="1"/>
<line x1="50.51" y1="376.49" x2="46.43" y2="377.25" stroke="#333" stroke-width="1"/>
<line x1="49.65" y1="354.04" x2="45.54" y2="354.7" stroke="#333" stroke-width="1"/>
<line x1="56.59" y1="535.68" x2="54.51" y2="536.44" stroke="#333" stroke-width="0.9"/>
<line x1="55.81" y1="515.35" x2="53.72" y2="516.07" stroke="#333" stroke-width="0.9"/>
<line x1="55.02" y1="494.75" x2="52.92" y2="495.42" stroke="#333" stroke-width="0.9"/>
<line x1="54.23" y1="473.88" x2="52.11" y2="474.51" stroke="#333" stroke-width="0.9"/>
<line x1="53.42" y1="452.73" x2="51.28" y2="453.32" stroke="#333" stroke-width="0.9"/>
<line x1="52.6" y1="431.31" x2="50.45" y2="431.85" stroke="#333" stroke-width="0.9"/>
<line x1="51.77" y1="409.6" x2="49.6" y2="410.09" stroke="#333" stroke-width="0.9"/>
<line x1="50.93" y1="387.6" x2="48.75" y2="388.04" stroke="#333" stroke-width="0.9"/>
<line x1="50.08" y1="365.3" x2="47.88" y2="365.69" stroke="#333" stroke-width="0.9"/>
<line x1="71.62" y1="550.99" x2="66.45" y2="553.02" stroke="#333" stroke-width="1"/>
<line x1="86.19" y1="556.21" x2="81.03" y2="558.3" stroke="#333" stroke-width="1"/>
<line x1="101.2" y1="561.58" x2="96.06" y2="563.73" stroke="#333" stroke-width="1"/>
<line x1="116.67" y1="567.12" x2="111.54" y2="569.33" stroke="#333" stroke-width="1"/>
<line x1="132.6" y1="572.82" x2="127.5" y2="575.11" stroke="#333" stroke-width="1"/>
<line x1="149.04" y1="578.7" x2="143.96" y2="581.06" stroke="#333" stroke-width="1"/>
<line x1="166" y1="584.77" x2="160.94" y2="587.21" stroke="#333" stroke-width="1"/>
<line x1="183.5" y1="591.04" x2="178.48" y2="593.55" stroke="#333" stroke-width="1"/>
<line x1="201.57" y1="597.5" x2="196.59" y2="600.11" stroke="#333" stroke-width="1"/>
<line x1="208.46" y1="599.97" x2="214.61" y2="602.17" stroke="#333" stroke-width="1"/>
<line x1="238.32" y1="584.11" x2="244.38" y2="586.14" stroke="#333" stroke-width="1"/>
<line x1="266.21" y1="569.29" x2="272.16" y2="571.17" stroke="#333" stroke-width="1"/>
<line x1="291.97" y1="555.6" x2="297.82" y2="557.34" stroke="#333" stroke-width="1"/>
<line x1="315.02" y1="543.36" x2="320.77" y2="544.98" stroke="#333" stroke-width="1"/>
<text transform="translate(51.47,548.75) rotate(-10)" text-anchor="end" font-family="Liberation Sans" font-weight="bold" font-size="8.6" fill="#1a1a1a" textLength="15" lengthAdjust="spacingAndGlyphs">-200</text>
<text transform="translate(50.7,528.55) rotate(-10)" text-anchor="end" font-family="Liberation Sans" font-weight="bold" font-size="8.6" fill="#1a1a1a" textLength="3.9" lengthAdjust="spacingAndGlyphs">0</text>
<text transform="translate(49.92,508.08) rotate(-10)" text-anchor="end" font-family="Liberation Sans" font-weight="bold" font-size="8.6" fill="#1a1a1a" textLength="11.3" lengthAdjust="spacingAndGlyphs">200</text>
<text transform="translate(49.13,487.35) rotate(-10)" text-anchor="end" font-family="Liberation Sans" font-weight="bold" font-size="8.6" fill="#1a1a1a" textLength="11.3" lengthAdjust="spacingAndGlyphs">400</text>
<text transform="translate(48.32,466.34) rotate(-10)" text-anchor="end" font-family="Liberation Sans" font-weight="bold" font-size="8.6" fill="#1a1a1a" textLength="11.3" lengthAdjust="spacingAndGlyphs">600</text>
<text transform="translate(47.51,445.06) rotate(-10)" text-anchor="end" font-family="Liberation Sans" font-weight="bold" font-size="8.6" fill="#1a1a1a" textLength="11.3" lengthAdjust="spacingAndGlyphs">800</text>
<text transform="translate(46.69,423.49) rotate(-10)" text-anchor="end" font-family="Liberation Sans" font-weight="bold" font-size="8.6" fill="#1a1a1a" textLength="15" lengthAdjust="spacingAndGlyphs">1000</text>
<text transform="translate(45.85,401.64) rotate(-10)" text-anchor="end" font-family="Liberation Sans" font-weight="bold" font-size="8.6" fill="#1a1a1a" textLength="15" lengthAdjust="spacingAndGlyphs">1200</text>
<text transform="translate(45.01,379.49) rotate(-10)" text-anchor="end" font-family="Liberation Sans" font-weight="bold" font-size="8.6" fill="#1a1a1a" textLength="15" lengthAdjust="spacingAndGlyphs">1400</text>
<text transform="translate(44.15,357.04) rotate(-10)" text-anchor="end" font-family="Liberation Sans" font-weight="bold" font-size="8.6" fill="#1a1a1a" textLength="15" lengthAdjust="spacingAndGlyphs">1600</text>
<circle cx="196.9" cy="342.9" r="2.6" fill="url(#rs)"/>
<circle cx="201.3" cy="345" r="2.6" fill="url(#rs)"/>
<circle cx="196" cy="348.3" r="2.6" fill="url(#rs)"/>
<circle cx="200.5" cy="363.7" r="2.6" fill="url(#rs)"/>
<circle cx="190" cy="372" r="2.6" fill="url(#rs)"/>
<circle cx="190" cy="372" r="2.6" fill="url(#rs)"/>
<circle cx="179.1" cy="372.5" r="2.6" fill="url(#rs)"/>
<circle cx="180.9" cy="375.4" r="2.6" fill="url(#rs)"/>
<circle cx="180.3" cy="379.6" r="2.6" fill="url(#rs)"/>
<circle cx="207" cy="383.6" r="2.6" fill="url(#rs)"/>
<circle cx="185.2" cy="391.4" r="2.6" fill="url(#rs)"/>
<circle cx="174.9" cy="395.7" r="2.6" fill="url(#rs)"/>
<circle cx="174.9" cy="395.7" r="2.6" fill="url(#rs)"/>
<circle cx="165.4" cy="397.4" r="2.6" fill="url(#rs)"/>
<circle cx="164.2" cy="400.7" r="2.6" fill="url(#rs)"/>
<circle cx="167.8" cy="406.1" r="2.6" fill="url(#rs)"/>
<circle cx="192.5" cy="408.1" r="2.6" fill="url(#rs)"/>
<circle cx="172.8" cy="415.4" r="2.6" fill="url(#rs)"/>
<circle cx="161.4" cy="416.4" r="2.6" fill="url(#rs)"/>
<circle cx="153.8" cy="421.1" r="2.6" fill="url(#rs)"/>
<circle cx="151.4" cy="421.7" r="2.6" fill="url(#rs)"/>
<circle cx="157.4" cy="428.9" r="2.6" fill="url(#rs)"/>
<circle cx="179.9" cy="429.2" r="2.6" fill="url(#rs)"/>
<circle cx="209.6" cy="431.4" r="2.6" fill="url(#rs)"/>
<circle cx="162.5" cy="435.6" r="2.6" fill="url(#rs)"/>
<circle cx="149.7" cy="435.9" r="2.6" fill="url(#rs)"/>
<circle cx="141.1" cy="440.3" r="2.6" fill="url(#rs)"/>
<circle cx="144" cy="440.3" r="2.6" fill="url(#rs)"/>
<circle cx="197.7" cy="445.6" r="2.6" fill="url(#rs)"/>
<circle cx="169.6" cy="447.5" r="2.6" fill="url(#rs)"/>
<circle cx="148.8" cy="447.8" r="2.6" fill="url(#rs)"/>
<circle cx="138.5" cy="452" r="2.6" fill="url(#rs)"/>
<circle cx="154.2" cy="452.8" r="2.6" fill="url(#rs)"/>
<circle cx="132.8" cy="455.6" r="2.6" fill="url(#rs)"/>
<circle cx="136.4" cy="456.7" r="2.6" fill="url(#rs)"/>
<circle cx="187.3" cy="458.5" r="2.6" fill="url(#rs)"/>
<circle cx="161.4" cy="462.7" r="2.6" fill="url(#rs)"/>
<circle cx="141.7" cy="463" r="2.6" fill="url(#rs)"/>
<circle cx="129.2" cy="464.7" r="2.6" fill="url(#rs)"/>
<circle cx="147.7" cy="467.3" r="2.6" fill="url(#rs)"/>
<circle cx="125.8" cy="468.4" r="2.6" fill="url(#rs)"/>
<circle cx="130.5" cy="470.1" r="2.6" fill="url(#rs)"/>
<circle cx="178.1" cy="470.2" r="2.6" fill="url(#rs)"/>
<circle cx="153.6" cy="475.4" r="2.6" fill="url(#rs)"/>
<circle cx="122.2" cy="475.6" r="2.6" fill="url(#rs)"/>
<circle cx="135.9" cy="475.6" r="2.6" fill="url(#rs)"/>
<circle cx="142.1" cy="479.3" r="2.6" fill="url(#rs)"/>
<circle cx="120.9" cy="479.5" r="2.6" fill="url(#rs)"/>
<circle cx="169.9" cy="480.6" r="2.6" fill="url(#rs)"/>
<circle cx="125.4" cy="481" r="2.6" fill="url(#rs)"/>
<circle cx="116.4" cy="484.4" r="2.6" fill="url(#rs)"/>
<circle cx="131.6" cy="486.1" r="2.6" fill="url(#rs)"/>
<circle cx="148.9" cy="486.5" r="2.6" fill="url(#rs)"/>
<circle cx="116.4" cy="488.7" r="2.6" fill="url(#rs)"/>
<circle cx="137.8" cy="489.1" r="2.6" fill="url(#rs)"/>
<circle cx="163.5" cy="489.4" r="2.6" fill="url(#rs)"/>
<circle cx="121.5" cy="490.4" r="2.6" fill="url(#rs)"/>
<circle cx="111.7" cy="492.1" r="2.6" fill="url(#rs)"/>
<circle cx="190.3" cy="492.6" r="2.6" fill="url(#rs)"/>
<circle cx="127.8" cy="494.7" r="2.6" fill="url(#rs)"/>
<circle cx="144.5" cy="495.5" r="2.6" fill="url(#rs)"/>
<circle cx="113" cy="496" r="2.6" fill="url(#rs)"/>
<circle cx="157.8" cy="497.3" r="2.6" fill="url(#rs)"/>
<circle cx="134" cy="497.7" r="2.6" fill="url(#rs)"/>
<circle cx="184.4" cy="497.7" r="2.6" fill="url(#rs)"/>
<circle cx="118.1" cy="498.1" r="2.6" fill="url(#rs)"/>
<circle cx="107.8" cy="498.5" r="2.6" fill="url(#rs)"/>
<circle cx="179.5" cy="501.7" r="2.6" fill="url(#rs)"/>
<circle cx="124.5" cy="502" r="2.6" fill="url(#rs)"/>
<circle cx="110" cy="502.4" r="2.6" fill="url(#rs)"/>
<circle cx="140.4" cy="503.2" r="2.6" fill="url(#rs)"/>
<circle cx="104.8" cy="504.1" r="2.6" fill="url(#rs)"/>
<circle cx="115.4" cy="504.3" r="2.6" fill="url(#rs)"/>
<circle cx="153.2" cy="504.3" r="2.6" fill="url(#rs)"/>
<circle cx="130.8" cy="504.7" r="2.6" fill="url(#rs)"/>
<circle cx="174.6" cy="505.7" r="2.6" fill="url(#rs)"/>
<circle cx="107" cy="507.3" r="2.6" fill="url(#rs)"/>
<circle cx="121.5" cy="508" r="2.6" fill="url(#rs)"/>
<circle cx="102.3" cy="508.4" r="2.6" fill="url(#rs)"/>
<circle cx="170.1" cy="509.4" r="2.6" fill="url(#rs)"/>
<circle cx="112.6" cy="509.5" r="2.6" fill="url(#rs)"/>
<circle cx="137" cy="509.5" r="2.6" fill="url(#rs)"/>
<circle cx="148.7" cy="510.2" r="2.6" fill="url(#rs)"/>
<circle cx="128" cy="510.5" r="2.6" fill="url(#rs)"/>
<circle cx="105.1" cy="511.4" r="2.6" fill="url(#rs)"/>
<circle cx="119" cy="512.7" r="2.6" fill="url(#rs)"/>
<circle cx="99.3" cy="513.1" r="2.6" fill="url(#rs)"/>
<circle cx="166" cy="513.1" r="2.6" fill="url(#rs)"/>
<circle cx="110.8" cy="513.5" r="2.6" fill="url(#rs)"/>
<circle cx="134.4" cy="514.4" r="2.6" fill="url(#rs)"/>
<circle cx="125.4" cy="514.8" r="2.6" fill="url(#rs)"/>
<circle cx="145.2" cy="515.4" r="2.6" fill="url(#rs)"/>
<circle cx="102.7" cy="515.7" r="2.6" fill="url(#rs)"/>
<circle cx="162" cy="516.3" r="2.6" fill="url(#rs)"/>
<circle cx="96.98" cy="516.74" r="2.6" fill="url(#rs)"/>
<circle cx="117.3" cy="516.9" r="2.6" fill="url(#rs)"/>
<circle cx="108.7" cy="518.2" r="2.6" fill="url(#rs)"/>
<circle cx="132.2" cy="518.2" r="2.6" fill="url(#rs)"/>
<circle cx="123.7" cy="519.1" r="2.6" fill="url(#rs)"/>
<circle cx="100.84" cy="519.32" r="2.6" fill="url(#rs)"/>
<circle cx="142.4" cy="519.4" r="2.6" fill="url(#rs)"/>
<circle cx="158.4" cy="519.4" r="2.6" fill="url(#rs)"/>
<circle cx="95" cy="519.83" r="2.6" fill="url(#rs)"/>
<circle cx="115.03" cy="521.06" r="2.6" fill="url(#rs)"/>
<circle cx="106.86" cy="521.75" r="2.6" fill="url(#rs)"/>
<circle cx="155.2" cy="522.2" r="2.6" fill="url(#rs)"/>
<circle cx="99.27" cy="522.4" r="2.6" fill="url(#rs)"/>
<circle cx="93.32" cy="522.46" r="2.6" fill="url(#rs)"/>
<circle cx="129.55" cy="522.81" r="2.6" fill="url(#rs)"/>
<circle cx="121.43" cy="523.21" r="2.6" fill="url(#rs)"/>
<circle cx="139.14" cy="524.23" r="2.6" fill="url(#rs)"/>
<circle cx="113.1" cy="524.6" r="2.6" fill="url(#rs)"/>
<circle cx="91.89" cy="524.7" r="2.6" fill="url(#rs)"/>
<circle cx="105.3" cy="524.77" r="2.6" fill="url(#rs)"/>
<circle cx="97.93" cy="525.01" r="2.6" fill="url(#rs)"/>
<circle cx="152.1" cy="525.1" r="2.6" fill="url(#rs)"/>
<circle cx="90.68" cy="526.6" r="2.6" fill="url(#rs)"/>
<circle cx="119.5" cy="526.7" r="2.6" fill="url(#rs)"/>
<circle cx="127.3" cy="526.73" r="2.6" fill="url(#rs)"/>
<circle cx="96.79" cy="527.24" r="2.6" fill="url(#rs)"/>
<circle cx="103.97" cy="527.33" r="2.6" fill="url(#rs)"/>
<circle cx="111.46" cy="527.61" r="2.6" fill="url(#rs)"/>
<circle cx="149.2" cy="527.9" r="2.6" fill="url(#rs)"/>
<circle cx="89.65" cy="528.21" r="2.6" fill="url(#rs)"/>
<circle cx="136.37" cy="528.33" r="2.6" fill="url(#rs)"/>
<circle cx="95.82" cy="529.13" r="2.6" fill="url(#rs)"/>
<circle cx="102.84" cy="529.51" r="2.6" fill="url(#rs)"/>
<circle cx="88.77" cy="529.58" r="2.6" fill="url(#rs)"/>
<circle cx="117.86" cy="529.67" r="2.6" fill="url(#rs)"/>
<circle cx="125.39" cy="530.06" r="2.6" fill="url(#rs)"/>
<circle cx="110.07" cy="530.16" r="2.6" fill="url(#rs)"/>
<circle cx="95" cy="530.74" r="2.6" fill="url(#rs)"/>
<circle cx="88.03" cy="530.75" r="2.6" fill="url(#rs)"/>
<circle cx="146.7" cy="530.8" r="2.6" fill="url(#rs)"/>
<circle cx="101.89" cy="531.36" r="2.6" fill="url(#rs)"/>
<circle cx="87.4" cy="531.74" r="2.6" fill="url(#rs)"/>
<circle cx="134.01" cy="531.82" r="2.6" fill="url(#rs)"/>
<circle cx="94.3" cy="532.1" r="2.6" fill="url(#rs)"/>
<circle cx="116.47" cy="532.19" r="2.6" fill="url(#rs)"/>
<circle cx="89.2" cy="532.3" r="3" fill="url(#rs)"/>
<circle cx="108.88" cy="532.33" r="2.6" fill="url(#rs)"/>
<circle cx="86.86" cy="532.58" r="2.6" fill="url(#rs)"/>
<circle cx="87.8" cy="532.8" r="3" fill="url(#rs)"/>
<circle cx="123.76" cy="532.9" r="2.6" fill="url(#rs)"/>
<circle cx="101.07" cy="532.94" r="2.6" fill="url(#rs)"/>
<circle cx="93.7" cy="533.26" r="2.6" fill="url(#rs)"/>
<circle cx="86.4" cy="533.3" r="2.6" fill="url(#rs)"/>
<circle cx="86.4" cy="533.3" r="3" fill="url(#rs)"/>
<circle cx="144.14" cy="533.69" r="2.6" fill="url(#rs)"/>
<circle cx="85" cy="533.8" r="3" fill="url(#rs)"/>
<circle cx="107.87" cy="534.18" r="2.6" fill="url(#rs)"/>
<circle cx="93.2" cy="534.25" r="2.6" fill="url(#rs)"/>
<circle cx="100.38" cy="534.27" r="2.6" fill="url(#rs)"/>
<circle cx="83.6" cy="534.3" r="3" fill="url(#rs)"/>
<circle cx="115.28" cy="534.33" r="2.6" fill="url(#rs)"/>
<circle cx="132.01" cy="534.78" r="2.6" fill="url(#rs)"/>
<circle cx="95.2" cy="535" r="3" fill="url(#rs)"/>
<circle cx="92.77" cy="535.09" r="2.6" fill="url(#rs)"/>
<circle cx="122.38" cy="535.3" r="2.6" fill="url(#rs)"/>
<circle cx="99.79" cy="535.41" r="2.6" fill="url(#rs)"/>
<circle cx="93.8" cy="535.5" r="3" fill="url(#rs)"/>
<circle cx="107.02" cy="535.75" r="2.6" fill="url(#rs)"/>
<circle cx="92.4" cy="535.8" r="2.6" fill="url(#rs)"/>
<circle cx="161.2" cy="535.9" r="2.6" fill="url(#rs)"/>
<circle cx="92.4" cy="536" r="3" fill="url(#rs)"/>
<circle cx="114.27" cy="536.16" r="2.6" fill="url(#rs)"/>
<circle cx="141.83" cy="536.29" r="2.6" fill="url(#rs)"/>
<circle cx="99.29" cy="536.38" r="2.6" fill="url(#rs)"/>
<circle cx="91" cy="536.5" r="3" fill="url(#rs)"/>
<circle cx="159.38" cy="536.84" r="2.6" fill="url(#rs)"/>
<circle cx="89.6" cy="537" r="3" fill="url(#rs)"/>
<circle cx="106.29" cy="537.08" r="2.6" fill="url(#rs)"/>
<circle cx="101.3" cy="537.1" r="3" fill="url(#rs)"/>
<circle cx="98.86" cy="537.2" r="2.6" fill="url(#rs)"/>
<circle cx="130.31" cy="537.3" r="2.6" fill="url(#rs)"/>
<circle cx="121.2" cy="537.35" r="2.6" fill="url(#rs)"/>
<circle cx="99.9" cy="537.6" r="3" fill="url(#rs)"/>
<circle cx="113.42" cy="537.7" r="2.6" fill="url(#rs)"/>
<circle cx="157.56" cy="537.77" r="2.6" fill="url(#rs)"/>
<circle cx="98.5" cy="537.9" r="2.6" fill="url(#rs)"/>
<circle cx="98.5" cy="538.1" r="3" fill="url(#rs)"/>
<circle cx="105.67" cy="538.22" r="2.6" fill="url(#rs)"/>
<circle cx="97.1" cy="538.6" r="3" fill="url(#rs)"/>
<circle cx="139.75" cy="538.63" r="2.6" fill="url(#rs)"/>
<circle cx="155.75" cy="538.71" r="2.6" fill="url(#rs)"/>
<circle cx="112.69" cy="539.02" r="2.6" fill="url(#rs)"/>
<circle cx="120.21" cy="539.09" r="2.6" fill="url(#rs)"/>
<circle cx="95.7" cy="539.1" r="3" fill="url(#rs)"/>
<circle cx="105.15" cy="539.18" r="2.6" fill="url(#rs)"/>
<circle cx="107.5" cy="539.2" r="3" fill="url(#rs)"/>
<circle cx="128.86" cy="539.45" r="2.6" fill="url(#rs)"/>
<circle cx="153.93" cy="539.65" r="2.6" fill="url(#rs)"/>
<circle cx="106.1" cy="539.7" r="3" fill="url(#rs)"/>
<circle cx="104.7" cy="540" r="2.6" fill="url(#rs)"/>
<circle cx="112.07" cy="540.14" r="2.6" fill="url(#rs)"/>
<circle cx="104.7" cy="540.2" r="3" fill="url(#rs)"/>
<circle cx="119.36" cy="540.57" r="2.6" fill="url(#rs)"/>
<circle cx="152.11" cy="540.58" r="2.6" fill="url(#rs)"/>
<circle cx="103.3" cy="540.7" r="3" fill="url(#rs)"/>
<circle cx="137.89" cy="540.74" r="2.6" fill="url(#rs)"/>
<circle cx="113.9" cy="541" r="3" fill="url(#rs)"/>
<circle cx="111.55" cy="541.09" r="2.6" fill="url(#rs)"/>
<circle cx="101.9" cy="541.2" r="3" fill="url(#rs)"/>
<circle cx="127.63" cy="541.27" r="2.6" fill="url(#rs)"/>
<circle cx="112.5" cy="541.5" r="3" fill="url(#rs)"/>
<circle cx="150.29" cy="541.52" r="2.6" fill="url(#rs)"/>
<circle cx="118.63" cy="541.82" r="2.6" fill="url(#rs)"/>
<circle cx="111.1" cy="541.9" r="2.6" fill="url(#rs)"/>
<circle cx="111.1" cy="542" r="3" fill="url(#rs)"/>
<circle cx="148.47" cy="542.45" r="2.6" fill="url(#rs)"/>
<circle cx="109.7" cy="542.5" r="3" fill="url(#rs)"/>
<circle cx="136.2" cy="542.63" r="2.6" fill="url(#rs)"/>
<circle cx="120.3" cy="542.8" r="3" fill="url(#rs)"/>
<circle cx="126.59" cy="542.82" r="2.6" fill="url(#rs)"/>
<circle cx="118.02" cy="542.89" r="2.6" fill="url(#rs)"/>
<circle cx="108.3" cy="543" r="3" fill="url(#rs)"/>
<circle cx="118.9" cy="543.3" r="3" fill="url(#rs)"/>
<circle cx="146.65" cy="543.39" r="2.6" fill="url(#rs)"/>
<circle cx="117.5" cy="543.8" r="2.6" fill="url(#rs)"/>
<circle cx="117.5" cy="543.8" r="3" fill="url(#rs)"/>
<circle cx="125.7" cy="544.13" r="2.6" fill="url(#rs)"/>
<circle cx="116.1" cy="544.3" r="3" fill="url(#rs)"/>
<circle cx="144.84" cy="544.33" r="2.6" fill="url(#rs)"/>
<circle cx="134.69" cy="544.34" r="2.6" fill="url(#rs)"/>
<circle cx="114.7" cy="544.8" r="3" fill="url(#rs)"/>
<circle cx="124.94" cy="545.25" r="2.6" fill="url(#rs)"/>
<circle cx="143.02" cy="545.26" r="2.6" fill="url(#rs)"/>
<circle cx="127.1" cy="545.3" r="3" fill="url(#rs)"/>
<circle cx="125.7" cy="545.8" r="3" fill="url(#rs)"/>
<circle cx="133.33" cy="545.87" r="2.6" fill="url(#rs)"/>
<circle cx="124.3" cy="546.2" r="2.6" fill="url(#rs)"/>
<circle cx="141.2" cy="546.2" r="2.6" fill="url(#rs)"/>
<circle cx="124.3" cy="546.3" r="3" fill="url(#rs)"/>
<circle cx="122.9" cy="546.8" r="3" fill="url(#rs)"/>
<circle cx="132.1" cy="547.26" r="2.6" fill="url(#rs)"/>
<circle cx="121.5" cy="547.3" r="3" fill="url(#rs)"/>
<circle cx="133.7" cy="547.6" r="3" fill="url(#rs)"/>
<circle cx="132.3" cy="548.1" r="3" fill="url(#rs)"/>
<circle cx="131" cy="548.5" r="2.6" fill="url(#rs)"/>
<circle cx="130.9" cy="548.6" r="3" fill="url(#rs)"/>
<circle cx="129.5" cy="549.1" r="3" fill="url(#rs)"/>
<circle cx="140.1" cy="549.4" r="3" fill="url(#rs)"/>
<circle cx="128.1" cy="549.6" r="3" fill="url(#rs)"/>
<circle cx="138.7" cy="549.9" r="3" fill="url(#rs)"/>
<circle cx="137.3" cy="550.4" r="3" fill="url(#rs)"/>
<circle cx="135.9" cy="550.9" r="3" fill="url(#rs)"/>
<circle cx="134.5" cy="551.4" r="3" fill="url(#rs)"/>
<circle cx="147.1" cy="552.5" r="3" fill="url(#rs)"/>
<circle cx="145.7" cy="553" r="3" fill="url(#rs)"/>
<circle cx="144.3" cy="553.5" r="3" fill="url(#rs)"/>
<circle cx="142.9" cy="554" r="3" fill="url(#rs)"/>
<circle cx="141.5" cy="554.5" r="3" fill="url(#rs)"/>
<circle cx="153.5" cy="554.6" r="3" fill="url(#rs)"/>
<circle cx="152.1" cy="555.1" r="3" fill="url(#rs)"/>
<circle cx="150.7" cy="555.6" r="3" fill="url(#rs)"/>
<circle cx="149.3" cy="556.1" r="3" fill="url(#rs)"/>
<circle cx="147.9" cy="556.6" r="3" fill="url(#rs)"/>
<circle cx="159.4" cy="556.8" r="3" fill="url(#rs)"/>
<circle cx="158" cy="557.3" r="3" fill="url(#rs)"/>
<circle cx="156.6" cy="557.8" r="3" fill="url(#rs)"/>
<circle cx="155.2" cy="558.3" r="3" fill="url(#rs)"/>
<circle cx="153.8" cy="558.8" r="3" fill="url(#rs)"/>
<circle cx="166.3" cy="558.9" r="3" fill="url(#rs)"/>
<circle cx="164.9" cy="559.4" r="3" fill="url(#rs)"/>
<circle cx="163.5" cy="559.9" r="3" fill="url(#rs)"/>
<circle cx="162.1" cy="560.4" r="3" fill="url(#rs)"/>
<circle cx="160.7" cy="560.9" r="3" fill="url(#rs)"/>
<circle cx="174" cy="561.6" r="3" fill="url(#rs)"/>
<circle cx="172.6" cy="562.1" r="3" fill="url(#rs)"/>
<circle cx="171.2" cy="562.6" r="3" fill="url(#rs)"/>
<circle cx="169.8" cy="563.1" r="3" fill="url(#rs)"/>
<circle cx="168.4" cy="563.6" r="3" fill="url(#rs)"/>
<circle cx="181.7" cy="563.9" r="3" fill="url(#rs)"/>
<circle cx="180.3" cy="564.4" r="3" fill="url(#rs)"/>
<circle cx="178.9" cy="564.9" r="3" fill="url(#rs)"/>
<circle cx="177.5" cy="565.4" r="3" fill="url(#rs)"/>
<circle cx="176.1" cy="565.9" r="3" fill="url(#rs)"/>
<circle cx="189.4" cy="566.5" r="3" fill="url(#rs)"/>
<circle cx="188" cy="567" r="3" fill="url(#rs)"/>
<circle cx="186.6" cy="567.5" r="3" fill="url(#rs)"/>
<circle cx="185.2" cy="568" r="3" fill="url(#rs)"/>
<circle cx="183.8" cy="568.5" r="3" fill="url(#rs)"/>
<circle cx="197" cy="568.9" r="3" fill="url(#rs)"/>
<circle cx="195.6" cy="569.4" r="3" fill="url(#rs)"/>
<circle cx="194.2" cy="569.9" r="3" fill="url(#rs)"/>
<circle cx="192.8" cy="570.4" r="3" fill="url(#rs)"/>
<circle cx="191.4" cy="570.9" r="3" fill="url(#rs)"/>
<circle cx="204.4" cy="571.2" r="3" fill="url(#rs)"/>
<circle cx="203" cy="571.7" r="3" fill="url(#rs)"/>
<circle cx="201.6" cy="572.2" r="3" fill="url(#rs)"/>
<circle cx="200.2" cy="572.7" r="3" fill="url(#rs)"/>
<circle cx="198.8" cy="573.2" r="3" fill="url(#rs)"/>
<circle cx="212.2" cy="573.6" r="3" fill="url(#rs)"/>
<circle cx="210.8" cy="574.1" r="3" fill="url(#rs)"/>
<circle cx="209.4" cy="574.6" r="3" fill="url(#rs)"/>
<circle cx="208" cy="575.1" r="3" fill="url(#rs)"/>
<circle cx="206.6" cy="575.6" r="3" fill="url(#rs)"/>
<text x="424.1" y="328.6" font-family="Liberation Serif" font-weight="bold" font-size="24" fill="#000">(d)</text>
<line x1="424.27" y1="551.81" x2="550.6" y2="503.4" stroke="#dedede" stroke-width="0.8"/>
<line x1="441.52" y1="557.99" x2="567.32" y2="507.95" stroke="#dedede" stroke-width="0.8"/>
<line x1="459.4" y1="564.38" x2="584.56" y2="512.65" stroke="#dedede" stroke-width="0.8"/>
<line x1="477.94" y1="571.02" x2="602.35" y2="517.49" stroke="#dedede" stroke-width="0.8"/>
<line x1="497.18" y1="577.9" x2="620.71" y2="522.48" stroke="#dedede" stroke-width="0.8"/>
<line x1="517.16" y1="585.06" x2="639.66" y2="527.64" stroke="#dedede" stroke-width="0.8"/>
<line x1="537.92" y1="592.49" x2="659.25" y2="532.97" stroke="#dedede" stroke-width="0.8"/>
<line x1="559.52" y1="600.22" x2="679.49" y2="538.48" stroke="#dedede" stroke-width="0.8"/>
<line x1="421.56" y1="540.93" x2="571.03" y2="592.88" stroke="#dedede" stroke-width="0.8"/>
<line x1="444.75" y1="532.35" x2="593.29" y2="581.47" stroke="#dedede" stroke-width="0.8"/>
<line x1="466.78" y1="524.2" x2="614.26" y2="570.71" stroke="#dedede" stroke-width="0.8"/>
<line x1="487.73" y1="516.45" x2="634.07" y2="560.56" stroke="#dedede" stroke-width="0.8"/>
<line x1="507.68" y1="509.07" x2="652.79" y2="550.96" stroke="#dedede" stroke-width="0.8"/>
<line x1="526.69" y1="502.03" x2="670.53" y2="541.87" stroke="#dedede" stroke-width="0.8"/>
<line x1="421.56" y1="540.93" x2="414.46" y2="351.48" stroke="#dedede" stroke-width="0.8"/>
<line x1="444.75" y1="532.35" x2="439.22" y2="347.56" stroke="#dedede" stroke-width="0.8"/>
<line x1="466.78" y1="524.2" x2="462.66" y2="343.85" stroke="#dedede" stroke-width="0.8"/>
<line x1="487.73" y1="516.45" x2="484.89" y2="340.33" stroke="#dedede" stroke-width="0.8"/>
<line x1="507.68" y1="509.07" x2="506" y2="336.98" stroke="#dedede" stroke-width="0.8"/>
<line x1="526.69" y1="502.03" x2="526.08" y2="333.8" stroke="#dedede" stroke-width="0.8"/>
<line x1="407.94" y1="545.97" x2="534.69" y2="499.07" stroke="#dedede" stroke-width="0.8"/>
<line x1="406.98" y1="523.18" x2="534.67" y2="479.17" stroke="#dedede" stroke-width="0.8"/>
<line x1="406.01" y1="500.05" x2="534.64" y2="459.01" stroke="#dedede" stroke-width="0.8"/>
<line x1="405.03" y1="476.58" x2="534.62" y2="438.59" stroke="#dedede" stroke-width="0.8"/>
<line x1="404.03" y1="452.76" x2="534.6" y2="417.91" stroke="#dedede" stroke-width="0.8"/>
<line x1="403.02" y1="428.58" x2="534.57" y2="396.97" stroke="#dedede" stroke-width="0.8"/>
<line x1="401.99" y1="404.03" x2="534.55" y2="375.75" stroke="#dedede" stroke-width="0.8"/>
<line x1="400.94" y1="379.1" x2="534.53" y2="354.25" stroke="#dedede" stroke-width="0.8"/>
<line x1="399.88" y1="353.79" x2="534.5" y2="332.47" stroke="#dedede" stroke-width="0.8"/>
<line x1="550.6" y1="503.4" x2="551.26" y2="334.43" stroke="#dedede" stroke-width="0.8"/>
<line x1="567.32" y1="507.95" x2="568.9" y2="336.5" stroke="#dedede" stroke-width="0.8"/>
<line x1="584.56" y1="512.65" x2="587.13" y2="338.64" stroke="#dedede" stroke-width="0.8"/>
<line x1="602.35" y1="517.49" x2="605.96" y2="340.85" stroke="#dedede" stroke-width="0.8"/>
<line x1="620.71" y1="522.48" x2="625.43" y2="343.13" stroke="#dedede" stroke-width="0.8"/>
<line x1="639.66" y1="527.64" x2="645.57" y2="345.49" stroke="#dedede" stroke-width="0.8"/>
<line x1="659.25" y1="532.97" x2="666.42" y2="347.94" stroke="#dedede" stroke-width="0.8"/>
<line x1="679.49" y1="538.48" x2="688.02" y2="350.47" stroke="#dedede" stroke-width="0.8"/>
<line x1="534.69" y1="499.07" x2="677.95" y2="538.06" stroke="#dedede" stroke-width="0.8"/>
<line x1="534.67" y1="479.17" x2="678.95" y2="515.76" stroke="#dedede" stroke-width="0.8"/>
<line x1="534.64" y1="459.01" x2="679.96" y2="493.15" stroke="#dedede" stroke-width="0.8"/>
<line x1="534.62" y1="438.59" x2="680.99" y2="470.2" stroke="#dedede" stroke-width="0.8"/>
<line x1="534.6" y1="417.91" x2="682.04" y2="446.92" stroke="#dedede" stroke-width="0.8"/>
<line x1="534.57" y1="396.97" x2="683.1" y2="423.29" stroke="#dedede" stroke-width="0.8"/>
<line x1="534.55" y1="375.75" x2="684.17" y2="399.32" stroke="#dedede" stroke-width="0.8"/>
<line x1="534.53" y1="354.25" x2="685.26" y2="374.98" stroke="#dedede" stroke-width="0.8"/>
<line x1="534.5" y1="332.47" x2="686.37" y2="350.28" stroke="#dedede" stroke-width="0.8"/>
<line x1="399.88" y1="353.79" x2="534.5" y2="332.47" stroke="#8c8c8c" stroke-width="0.9"/>
<line x1="534.69" y1="499.07" x2="534.5" y2="332.47" stroke="#8c8c8c" stroke-width="0.9"/>
<line x1="534.5" y1="332.47" x2="686.37" y2="350.28" stroke="#8c8c8c" stroke-width="0.9"/>
<line x1="677.95" y1="538.06" x2="686.37" y2="350.28" stroke="#8c8c8c" stroke-width="0.9"/>
<line x1="407.94" y1="545.97" x2="534.69" y2="499.07" stroke="#8c8c8c" stroke-width="0.9"/>
<line x1="534.69" y1="499.07" x2="677.95" y2="538.06" stroke="#8c8c8c" stroke-width="0.9"/>
<line x1="407.94" y1="545.97" x2="399.88" y2="353.79" stroke="#333" stroke-width="1.2"/>
<line x1="407.94" y1="545.97" x2="557.87" y2="599.63" stroke="#333" stroke-width="1.2"/>
<line x1="557.87" y1="599.63" x2="677.95" y2="538.06" stroke="#333" stroke-width="1.2"/>
<line x1="407.94" y1="545.97" x2="404.1" y2="547.39" stroke="#333" stroke-width="1"/>
<line x1="406.98" y1="523.18" x2="403.11" y2="524.51" stroke="#333" stroke-width="1"/>
<line x1="406.01" y1="500.05" x2="402.1" y2="501.3" stroke="#333" stroke-width="1"/>
<line x1="405.03" y1="476.58" x2="401.09" y2="477.74" stroke="#333" stroke-width="1"/>
<line x1="404.03" y1="452.76" x2="400.05" y2="453.82" stroke="#333" stroke-width="1"/>
<line x1="403.02" y1="428.58" x2="399.01" y2="429.54" stroke="#333" stroke-width="1"/>
<line x1="401.99" y1="404.03" x2="397.94" y2="404.89" stroke="#333" stroke-width="1"/>
<line x1="400.94" y1="379.1" x2="396.86" y2="379.86" stroke="#333" stroke-width="1"/>
<line x1="399.88" y1="353.79" x2="395.76" y2="354.45" stroke="#333" stroke-width="1"/>
<line x1="407.46" y1="534.61" x2="405.39" y2="535.36" stroke="#333" stroke-width="0.9"/>
<line x1="406.5" y1="511.66" x2="404.41" y2="512.35" stroke="#333" stroke-width="0.9"/>
<line x1="405.52" y1="488.36" x2="403.41" y2="489.01" stroke="#333" stroke-width="0.9"/>
<line x1="404.53" y1="464.72" x2="402.4" y2="465.31" stroke="#333" stroke-width="0.9"/>
<line x1="403.52" y1="440.72" x2="401.38" y2="441.26" stroke="#333" stroke-width="0.9"/>
<line x1="402.5" y1="416.35" x2="400.34" y2="416.84" stroke="#333" stroke-width="0.9"/>
<line x1="401.47" y1="391.62" x2="399.28" y2="392.05" stroke="#333" stroke-width="0.9"/>
<line x1="400.41" y1="366.5" x2="398.21" y2="366.88" stroke="#333" stroke-width="0.9"/>
<line x1="424.27" y1="551.81" x2="419.09" y2="553.79" stroke="#333" stroke-width="1"/>
<line x1="441.52" y1="557.99" x2="436.35" y2="560.04" stroke="#333" stroke-width="1"/>
<line x1="459.4" y1="564.38" x2="454.24" y2="566.51" stroke="#333" stroke-width="1"/>
<line x1="477.94" y1="571.02" x2="472.8" y2="573.23" stroke="#333" stroke-width="1"/>
<line x1="497.18" y1="577.9" x2="492.06" y2="580.2" stroke="#333" stroke-width="1"/>
<line x1="517.16" y1="585.06" x2="512.07" y2="587.44" stroke="#333" stroke-width="1"/>
<line x1="537.92" y1="592.49" x2="532.87" y2="594.97" stroke="#333" stroke-width="1"/>
<line x1="559.52" y1="600.22" x2="554.5" y2="602.8" stroke="#333" stroke-width="1"/>
<line x1="571.03" y1="592.88" x2="577.1" y2="594.99" stroke="#333" stroke-width="1"/>
<line x1="593.29" y1="581.47" x2="599.3" y2="583.46" stroke="#333" stroke-width="1"/>
<line x1="614.26" y1="570.71" x2="620.21" y2="572.59" stroke="#333" stroke-width="1"/>
<line x1="634.07" y1="560.56" x2="639.95" y2="562.33" stroke="#333" stroke-width="1"/>
<line x1="652.79" y1="550.96" x2="658.6" y2="552.64" stroke="#333" stroke-width="1"/>
<line x1="670.53" y1="541.87" x2="676.27" y2="543.46" stroke="#333" stroke-width="1"/>
<text transform="translate(402.44,548.97) rotate(-10)" text-anchor="end" font-family="Liberation Sans" font-weight="bold" font-size="8.6" fill="#1a1a1a" textLength="3.9" lengthAdjust="spacingAndGlyphs">0</text>
<text transform="translate(401.48,526.18) rotate(-10)" text-anchor="end" font-family="Liberation Sans" font-weight="bold" font-size="8.6" fill="#1a1a1a" textLength="11.3" lengthAdjust="spacingAndGlyphs">200</text>
<text transform="translate(400.51,503.05) rotate(-10)" text-anchor="end" font-family="Liberation Sans" font-weight="bold" font-size="8.6" fill="#1a1a1a" textLength="11.3" lengthAdjust="spacingAndGlyphs">400</text>
<text transform="translate(399.53,479.58) rotate(-10)" text-anchor="end" font-family="Liberation Sans" font-weight="bold" font-size="8.6" fill="#1a1a1a" textLength="11.3" lengthAdjust="spacingAndGlyphs">600</text>
<text transform="translate(398.53,455.76) rotate(-10)" text-anchor="end" font-family="Liberation Sans" font-weight="bold" font-size="8.6" fill="#1a1a1a" textLength="11.3" lengthAdjust="spacingAndGlyphs">800</text>
<text transform="translate(397.52,431.58) rotate(-10)" text-anchor="end" font-family="Liberation Sans" font-weight="bold" font-size="8.6" fill="#1a1a1a" textLength="15" lengthAdjust="spacingAndGlyphs">1000</text>
<text transform="translate(396.49,407.03) rotate(-10)" text-anchor="end" font-family="Liberation Sans" font-weight="bold" font-size="8.6" fill="#1a1a1a" textLength="15" lengthAdjust="spacingAndGlyphs">1200</text>
<text transform="translate(395.44,382.1) rotate(-10)" text-anchor="end" font-family="Liberation Sans" font-weight="bold" font-size="8.6" fill="#1a1a1a" textLength="15" lengthAdjust="spacingAndGlyphs">1400</text>
<text transform="translate(394.38,356.79) rotate(-10)" text-anchor="end" font-family="Liberation Sans" font-weight="bold" font-size="8.6" fill="#1a1a1a" textLength="15" lengthAdjust="spacingAndGlyphs">1600</text>
<circle cx="536.5" cy="339" r="2.6" fill="url(#ks)"/>
<circle cx="535.1" cy="349.3" r="2.6" fill="url(#ks)"/>
<circle cx="539.2" cy="359.1" r="2.6" fill="url(#ks)"/>
<circle cx="532.4" cy="362.5" r="2.6" fill="url(#ks)"/>
<circle cx="521.4" cy="377.3" r="2.6" fill="url(#ks)"/>
<circle cx="522.1" cy="379.6" r="2.6" fill="url(#ks)"/>
<circle cx="520.5" cy="383.5" r="2.6" fill="url(#ks)"/>
<circle cx="527.8" cy="387.2" r="2.6" fill="url(#ks)"/>
<circle cx="543.3" cy="391" r="2.6" fill="url(#ks)"/>
<circle cx="507.7" cy="403.6" r="2.6" fill="url(#ks)"/>
<circle cx="511.4" cy="404.3" r="2.6" fill="url(#ks)"/>
<circle cx="509.1" cy="409.3" r="2.6" fill="url(#ks)"/>
<circle cx="518" cy="411.1" r="2.6" fill="url(#ks)"/>
<circle cx="533.1" cy="413.9" r="2.6" fill="url(#ks)"/>
<circle cx="506.8" cy="416.1" r="2.6" fill="url(#ks)"/>
<circle cx="498.2" cy="424.3" r="2.6" fill="url(#ks)"/>
<circle cx="503.3" cy="426.5" r="2.6" fill="url(#ks)"/>
<circle cx="496.1" cy="427.2" r="2.6" fill="url(#ks)"/>
<circle cx="497" cy="431.1" r="2.6" fill="url(#ks)"/>
<circle cx="510.2" cy="432.3" r="2.6" fill="url(#ks)"/>
<circle cx="523.9" cy="433.2" r="2.6" fill="url(#ks)"/>
<circle cx="549.2" cy="437.5" r="2.6" fill="url(#ks)"/>
<circle cx="490.2" cy="438" r="2.6" fill="url(#ks)"/>
<circle cx="490.2" cy="442.6" r="2.6" fill="url(#ks)"/>
<circle cx="496.1" cy="444.8" r="2.6" fill="url(#ks)"/>
<circle cx="486.2" cy="447.9" r="2.6" fill="url(#ks)"/>
<circle cx="516.7" cy="450.3" r="2.6" fill="url(#ks)"/>
<circle cx="541.3" cy="450.3" r="2.6" fill="url(#ks)"/>
<circle cx="503.7" cy="450.8" r="2.6" fill="url(#ks)"/>
<circle cx="485.4" cy="451.2" r="2.6" fill="url(#ks)"/>
<circle cx="484.2" cy="458" r="2.6" fill="url(#ks)"/>
<circle cx="491" cy="460.2" r="2.6" fill="url(#ks)"/>
<circle cx="478.5" cy="461.6" r="2.6" fill="url(#ks)"/>
<circle cx="533.8" cy="462.3" r="2.6" fill="url(#ks)"/>
<circle cx="480.6" cy="463.3" r="2.6" fill="url(#ks)"/>
<circle cx="510.7" cy="464.5" r="2.6" fill="url(#ks)"/>
<circle cx="498.2" cy="466.2" r="2.6" fill="url(#ks)"/>
<circle cx="479.4" cy="470.8" r="2.6" fill="url(#ks)"/>
<circle cx="527.3" cy="472.2" r="2.6" fill="url(#ks)"/>
<circle cx="473" cy="472.7" r="2.6" fill="url(#ks)"/>
<circle cx="486.6" cy="473.4" r="2.6" fill="url(#ks)"/>
<circle cx="473.7" cy="476" r="2.6" fill="url(#ks)"/>
<circle cx="505.9" cy="476.5" r="2.6" fill="url(#ks)"/>
<circle cx="493.6" cy="478.7" r="2.6" fill="url(#ks)"/>
<circle cx="475.6" cy="481.3" r="2.6" fill="url(#ks)"/>
<circle cx="521.8" cy="481.3" r="2.6" fill="url(#ks)"/>
<circle cx="468.8" cy="482" r="2.6" fill="url(#ks)"/>
<circle cx="483.3" cy="484.2" r="2.6" fill="url(#ks)"/>
<circle cx="466.5" cy="485.9" r="2.6" fill="url(#ks)"/>
<circle cx="502" cy="486.8" r="2.6" fill="url(#ks)"/>
<circle cx="490.5" cy="489.3" r="2.6" fill="url(#ks)"/>
<circle cx="517" cy="489.8" r="2.6" fill="url(#ks)"/>
<circle cx="472.5" cy="490.2" r="2.6" fill="url(#ks)"/>
<circle cx="461.4" cy="492.7" r="2.6" fill="url(#ks)"/>
<circle cx="480.6" cy="493.1" r="2.6" fill="url(#ks)"/>
<circle cx="498.5" cy="495.3" r="2.6" fill="url(#ks)"/>
<circle cx="512.7" cy="497.4" r="2.6" fill="url(#ks)"/>
<circle cx="540.1" cy="497.9" r="2.6" fill="url(#ks)"/>
<circle cx="462.8" cy="497.9" r="2.6" fill="url(#ks)"/>
<circle cx="487.6" cy="497.9" r="2.6" fill="url(#ks)"/>
<circle cx="538.7" cy="497.9" r="2.6" fill="url(#ks)"/>
<circle cx="470.3" cy="498.2" r="2.6" fill="url(#ks)"/>
<circle cx="456.8" cy="498.3" r="2.6" fill="url(#ks)"/>
<circle cx="456.8" cy="498.7" r="2.6" fill="url(#ks)"/>
<circle cx="478.5" cy="499.9" r="2.6" fill="url(#ks)"/>
<circle cx="534.3" cy="502.35" r="2.6" fill="url(#ks)"/>
<circle cx="454.28" cy="502.83" r="2.6" fill="url(#ks)"/>
<circle cx="460.2" cy="503.4" r="2.6" fill="url(#ks)"/>
<circle cx="468.2" cy="504" r="2.6" fill="url(#ks)"/>
<circle cx="484.8" cy="504.5" r="2.6" fill="url(#ks)"/>
<circle cx="476.2" cy="506.3" r="2.6" fill="url(#ks)"/>
<circle cx="530.16" cy="506.55" r="2.6" fill="url(#ks)"/>
<circle cx="452.05" cy="506.81" r="2.6" fill="url(#ks)"/>
<circle cx="458.55" cy="507.33" r="2.6" fill="url(#ks)"/>
<circle cx="493.3" cy="508" r="2.6" fill="url(#ks)"/>
<circle cx="466.64" cy="508.01" r="2.6" fill="url(#ks)"/>
<circle cx="483.74" cy="508.78" r="2.6" fill="url(#ks)"/>
<circle cx="505.3" cy="509.7" r="2.6" fill="url(#ks)"/>
<circle cx="474.9" cy="510.14" r="2.6" fill="url(#ks)"/>
<circle cx="450.1" cy="510.32" r="2.6" fill="url(#ks)"/>
<circle cx="526.24" cy="510.52" r="2.6" fill="url(#ks)"/>
<circle cx="457.09" cy="510.79" r="2.6" fill="url(#ks)"/>
<circle cx="465.27" cy="511.54" r="2.6" fill="url(#ks)"/>
<circle cx="492.52" cy="511.92" r="2.6" fill="url(#ks)"/>
<circle cx="482.82" cy="512.55" r="2.6" fill="url(#ks)"/>
<circle cx="448.38" cy="513.41" r="2.6" fill="url(#ks)"/>
<circle cx="504.26" cy="513.45" r="2.6" fill="url(#ks)"/>
<circle cx="473.76" cy="513.52" r="2.6" fill="url(#ks)"/>
<circle cx="455.81" cy="513.84" r="2.6" fill="url(#ks)"/>
<circle cx="522.55" cy="514.25" r="2.6" fill="url(#ks)"/>
<circle cx="464.06" cy="514.64" r="2.6" fill="url(#ks)"/>
<circle cx="491.83" cy="515.36" r="2.6" fill="url(#ks)"/>
<circle cx="482" cy="515.87" r="2.6" fill="url(#ks)"/>
<circle cx="446.86" cy="516.12" r="2.6" fill="url(#ks)"/>
<circle cx="472.75" cy="516.49" r="2.6" fill="url(#ks)"/>
<circle cx="454.69" cy="516.52" r="2.6" fill="url(#ks)"/>
<circle cx="503.34" cy="516.75" r="2.6" fill="url(#ks)"/>
<circle cx="462.99" cy="517.37" r="2.6" fill="url(#ks)"/>
<circle cx="519.07" cy="517.78" r="2.6" fill="url(#ks)"/>
<circle cx="491.23" cy="518.4" r="2.6" fill="url(#ks)"/>
<circle cx="445.53" cy="518.51" r="2.6" fill="url(#ks)"/>
<circle cx="481.28" cy="518.79" r="2.6" fill="url(#ks)"/>
<circle cx="453.7" cy="518.87" r="2.6" fill="url(#ks)"/>
<circle cx="471.86" cy="519.11" r="2.6" fill="url(#ks)"/>
<circle cx="502.54" cy="519.65" r="2.6" fill="url(#ks)"/>
<circle cx="462.06" cy="519.78" r="2.6" fill="url(#ks)"/>
<circle cx="444.36" cy="520.62" r="2.6" fill="url(#ks)"/>
<circle cx="452.82" cy="520.95" r="2.6" fill="url(#ks)"/>
<circle cx="490.7" cy="521.07" r="2.6" fill="url(#ks)"/>
<circle cx="515.78" cy="521.11" r="2.6" fill="url(#ks)"/>
<circle cx="480.65" cy="521.36" r="2.6" fill="url(#ks)"/>
<circle cx="471.08" cy="521.41" r="2.6" fill="url(#ks)"/>
<circle cx="461.23" cy="521.89" r="2.6" fill="url(#ks)"/>
<circle cx="501.83" cy="522.2" r="2.6" fill="url(#ks)"/>
<circle cx="443.33" cy="522.47" r="2.6" fill="url(#ks)"/>
<circle cx="452.06" cy="522.78" r="2.6" fill="url(#ks)"/>
<circle cx="490.23" cy="523.41" r="2.6" fill="url(#ks)"/>
<circle cx="470.4" cy="523.44" r="2.6" fill="url(#ks)"/>
<circle cx="480.09" cy="523.62" r="2.6" fill="url(#ks)"/>
<circle cx="460.51" cy="523.75" r="2.6" fill="url(#ks)"/>
<circle cx="442.42" cy="524.1" r="2.6" fill="url(#ks)"/>
<circle cx="512.68" cy="524.25" r="2.6" fill="url(#ks)"/>
<circle cx="451.38" cy="524.38" r="2.6" fill="url(#ks)"/>
<circle cx="501.21" cy="524.45" r="2.6" fill="url(#ks)"/>
<circle cx="469.79" cy="525.22" r="2.6" fill="url(#ks)"/>
<circle cx="459.87" cy="525.39" r="2.6" fill="url(#ks)"/>
<circle cx="489.82" cy="525.48" r="2.6" fill="url(#ks)"/>
<circle cx="441.62" cy="525.53" r="2.6" fill="url(#ks)"/>
<circle cx="479.6" cy="525.61" r="2.6" fill="url(#ks)"/>
<circle cx="450.79" cy="525.8" r="2.6" fill="url(#ks)"/>
<circle cx="500.66" cy="526.43" r="2.6" fill="url(#ks)"/>
<circle cx="440.92" cy="526.79" r="2.6" fill="url(#ks)"/>
<circle cx="469.26" cy="526.79" r="2.6" fill="url(#ks)"/>
<circle cx="459.31" cy="526.83" r="2.6" fill="url(#ks)"/>
<circle cx="450.27" cy="527.04" r="2.6" fill="url(#ks)"/>
<circle cx="509.76" cy="527.21" r="2.6" fill="url(#ks)"/>
<circle cx="489.45" cy="527.3" r="2.6" fill="url(#ks)"/>
<circle cx="479.17" cy="527.36" r="2.6" fill="url(#ks)"/>
<circle cx="440.3" cy="527.9" r="2.6" fill="url(#ks)"/>
<circle cx="440.3" cy="527.9" r="2.6" fill="url(#ks)"/>
<circle cx="458.82" cy="528.1" r="2.6" fill="url(#ks)"/>
<circle cx="449.8" cy="528.14" r="2.6" fill="url(#ks)"/>
<circle cx="500.17" cy="528.17" r="2.6" fill="url(#ks)"/>
<circle cx="468.79" cy="528.17" r="2.6" fill="url(#ks)"/>
<circle cx="437.9" cy="528.2" r="2.6" fill="url(#ks)"/>
<circle cx="435.5" cy="528.5" r="2.6" fill="url(#ks)"/>
<circle cx="433.1" cy="528.8" r="2.6" fill="url(#ks)"/>
<circle cx="433.1" cy="528.8" r="2.6" fill="url(#ks)"/>
<circle cx="489.14" cy="528.9" r="2.6" fill="url(#ks)"/>
<circle cx="478.79" cy="528.9" r="2.6" fill="url(#ks)"/>
<circle cx="431.48" cy="528.9" r="2.6" fill="url(#ks)"/>
<circle cx="449.4" cy="529.1" r="2.6" fill="url(#ks)"/>
<circle cx="449.4" cy="529.1" r="2.6" fill="url(#ks)"/>
<circle cx="429.89" cy="529.21" r="2.6" fill="url(#ks)"/>
<circle cx="458.38" cy="529.22" r="2.6" fill="url(#ks)"/>
<circle cx="468.38" cy="529.39" r="2.6" fill="url(#ks)"/>
<circle cx="447.58" cy="529.53" r="2.6" fill="url(#ks)"/>
<circle cx="499.75" cy="529.7" r="2.6" fill="url(#ks)"/>
<circle cx="428.35" cy="529.71" r="2.6" fill="url(#ks)"/>
<circle cx="445.76" cy="529.96" r="2.6" fill="url(#ks)"/>
<circle cx="507" cy="530" r="2.6" fill="url(#ks)"/>
<circle cx="458" cy="530.2" r="2.6" fill="url(#ks)"/>
<circle cx="458" cy="530.2" r="2.6" fill="url(#ks)"/>
<circle cx="478.45" cy="530.26" r="2.6" fill="url(#ks)"/>
<circle cx="488.86" cy="530.31" r="2.6" fill="url(#ks)"/>
<circle cx="443.94" cy="530.39" r="2.6" fill="url(#ks)"/>
<circle cx="426.9" cy="530.41" r="2.6" fill="url(#ks)"/>
<circle cx="468.02" cy="530.46" r="2.6" fill="url(#ks)"/>
<circle cx="456.25" cy="530.78" r="2.6" fill="url(#ks)"/>
<circle cx="442.12" cy="530.82" r="2.6" fill="url(#ks)"/>
<circle cx="499.37" cy="531.05" r="2.6" fill="url(#ks)"/>
<circle cx="440.3" cy="531.25" r="2.6" fill="url(#ks)"/>
<circle cx="440.3" cy="531.25" r="2.6" fill="url(#ks)"/>
<circle cx="425.55" cy="531.28" r="2.6" fill="url(#ks)"/>
<circle cx="438.68" cy="531.35" r="2.6" fill="url(#ks)"/>
<circle cx="454.5" cy="531.37" r="2.6" fill="url(#ks)"/>
<circle cx="467.7" cy="531.4" r="2.6" fill="url(#ks)"/>
<circle cx="467.7" cy="531.4" r="2.6" fill="url(#ks)"/>
<circle cx="478.16" cy="531.45" r="2.6" fill="url(#ks)"/>
<circle cx="488.61" cy="531.55" r="2.6" fill="url(#ks)"/>
<circle cx="437.09" cy="531.66" r="2.6" fill="url(#ks)"/>
<circle cx="452.75" cy="531.95" r="2.6" fill="url(#ks)"/>
<circle cx="465.84" cy="532.08" r="2.6" fill="url(#ks)"/>
<circle cx="435.55" cy="532.16" r="2.6" fill="url(#ks)"/>
<circle cx="499.04" cy="532.24" r="2.6" fill="url(#ks)"/>
<circle cx="424.33" cy="532.31" r="2.6" fill="url(#ks)"/>
<circle cx="477.9" cy="532.5" r="2.6" fill="url(#ks)"/>
<circle cx="477.9" cy="532.5" r="2.6" fill="url(#ks)"/>
<circle cx="504.62" cy="532.53" r="2.6" fill="url(#ks)"/>
<circle cx="451" cy="532.53" r="2.6" fill="url(#ks)"/>
<circle cx="488.39" cy="532.64" r="2.6" fill="url(#ks)"/>
<circle cx="463.99" cy="532.76" r="2.6" fill="url(#ks)"/>
<circle cx="434.1" cy="532.86" r="2.6" fill="url(#ks)"/>
<circle cx="449.25" cy="533.12" r="2.6" fill="url(#ks)"/>
<circle cx="476.12" cy="533.18" r="2.6" fill="url(#ks)"/>
<circle cx="498.75" cy="533.28" r="2.6" fill="url(#ks)"/>
<circle cx="462.13" cy="533.44" r="2.6" fill="url(#ks)"/>
<circle cx="423.26" cy="533.49" r="2.6" fill="url(#ks)"/>
<circle cx="488.2" cy="533.6" r="2.6" fill="url(#ks)"/>
<circle cx="488.2" cy="533.6" r="2.6" fill="url(#ks)"/>
<circle cx="447.5" cy="533.7" r="2.6" fill="url(#ks)"/>
<circle cx="447.5" cy="533.7" r="2.6" fill="url(#ks)"/>
<circle cx="432.75" cy="533.73" r="2.6" fill="url(#ks)"/>
<circle cx="445.88" cy="533.8" r="2.6" fill="url(#ks)"/>
<circle cx="474.34" cy="533.86" r="2.6" fill="url(#ks)"/>
<circle cx="444.29" cy="534.11" r="2.6" fill="url(#ks)"/>
<circle cx="460.27" cy="534.11" r="2.6" fill="url(#ks)"/>
<circle cx="498.5" cy="534.2" r="2.6" fill="url(#ks)"/>
<circle cx="498.5" cy="534.2" r="2.6" fill="url(#ks)"/>
<circle cx="486.46" cy="534.28" r="2.6" fill="url(#ks)"/>
<circle cx="472.57" cy="534.53" r="2.6" fill="url(#ks)"/>
<circle cx="442.75" cy="534.61" r="2.6" fill="url(#ks)"/>
<circle cx="431.53" cy="534.76" r="2.6" fill="url(#ks)"/>
<circle cx="458.41" cy="534.79" r="2.6" fill="url(#ks)"/>
<circle cx="422.36" cy="534.8" r="2.6" fill="url(#ks)"/>
<circle cx="502.47" cy="534.81" r="2.6" fill="url(#ks)"/>
<circle cx="496.79" cy="534.92" r="2.6" fill="url(#ks)"/>
<circle cx="484.73" cy="534.95" r="2.6" fill="url(#ks)"/>
<circle cx="470.79" cy="535.21" r="2.6" fill="url(#ks)"/>
<circle cx="441.3" cy="535.31" r="2.6" fill="url(#ks)"/>
<circle cx="456.56" cy="535.47" r="2.6" fill="url(#ks)"/>
<circle cx="495.08" cy="535.63" r="2.6" fill="url(#ks)"/>
<circle cx="482.99" cy="535.63" r="2.6" fill="url(#ks)"/>
<circle cx="469.01" cy="535.89" r="2.6" fill="url(#ks)"/>
<circle cx="430.46" cy="535.94" r="2.6" fill="url(#ks)"/>
<circle cx="454.7" cy="536.15" r="2.6" fill="url(#ks)"/>
<circle cx="454.7" cy="536.15" r="2.6" fill="url(#ks)"/>
<circle cx="439.95" cy="536.18" r="2.6" fill="url(#ks)"/>
<circle cx="421.64" cy="536.21" r="2.6" fill="url(#ks)"/>
<circle cx="453.08" cy="536.25" r="2.6" fill="url(#ks)"/>
<circle cx="481.25" cy="536.31" r="2.6" fill="url(#ks)"/>
<circle cx="493.38" cy="536.35" r="2.6" fill="url(#ks)"/>
<circle cx="451.49" cy="536.56" r="2.6" fill="url(#ks)"/>
<circle cx="467.23" cy="536.57" r="2.6" fill="url(#ks)"/>
<circle cx="500.54" cy="536.86" r="2.6" fill="url(#ks)"/>
<circle cx="479.52" cy="536.99" r="2.6" fill="url(#ks)"/>
<circle cx="491.67" cy="537.06" r="2.6" fill="url(#ks)"/>
<circle cx="449.95" cy="537.06" r="2.6" fill="url(#ks)"/>
<circle cx="438.73" cy="537.21" r="2.6" fill="url(#ks)"/>
<circle cx="465.46" cy="537.24" r="2.6" fill="url(#ks)"/>
<circle cx="429.56" cy="537.25" r="2.6" fill="url(#ks)"/>
<circle cx="477.78" cy="537.66" r="2.6" fill="url(#ks)"/>
<circle cx="421.12" cy="537.69" r="2.6" fill="url(#ks)"/>
<circle cx="448.5" cy="537.76" r="2.6" fill="url(#ks)"/>
<circle cx="489.96" cy="537.78" r="2.6" fill="url(#ks)"/>
<circle cx="463.68" cy="537.92" r="2.6" fill="url(#ks)"/>
<circle cx="476.05" cy="538.34" r="2.6" fill="url(#ks)"/>
<circle cx="437.66" cy="538.39" r="2.6" fill="url(#ks)"/>
<circle cx="488.25" cy="538.49" r="2.6" fill="url(#ks)"/>
<circle cx="461.9" cy="538.6" r="2.6" fill="url(#ks)"/>
<circle cx="461.9" cy="538.6" r="2.6" fill="url(#ks)"/>
<circle cx="447.15" cy="538.63" r="2.6" fill="url(#ks)"/>
<circle cx="428.84" cy="538.66" r="2.6" fill="url(#ks)"/>
<circle cx="498.8" cy="538.7" r="2.6" fill="url(#ks)"/>
<circle cx="460.28" cy="538.7" r="2.6" fill="url(#ks)"/>
<circle cx="458.69" cy="539.01" r="2.6" fill="url(#ks)"/>
<circle cx="474.31" cy="539.02" r="2.6" fill="url(#ks)"/>
<circle cx="486.55" cy="539.21" r="2.6" fill="url(#ks)"/>
<circle cx="420.81" cy="539.23" r="2.6" fill="url(#ks)"/>
<circle cx="457.15" cy="539.51" r="2.6" fill="url(#ks)"/>
<circle cx="445.93" cy="539.66" r="2.6" fill="url(#ks)"/>
<circle cx="472.57" cy="539.7" r="2.6" fill="url(#ks)"/>
<circle cx="436.76" cy="539.7" r="2.6" fill="url(#ks)"/>
<circle cx="484.84" cy="539.92" r="2.6" fill="url(#ks)"/>
<circle cx="428.32" cy="540.14" r="2.6" fill="url(#ks)"/>
<circle cx="455.7" cy="540.21" r="2.6" fill="url(#ks)"/>
<circle cx="497.24" cy="540.36" r="2.6" fill="url(#ks)"/>
<circle cx="470.84" cy="540.37" r="2.6" fill="url(#ks)"/>
<circle cx="483.13" cy="540.64" r="2.6" fill="url(#ks)"/>
<circle cx="420.7" cy="540.8" r="2.6" fill="url(#ks)"/>
<circle cx="444.86" cy="540.84" r="2.6" fill="url(#ks)"/>
<circle cx="469.1" cy="541.05" r="2.6" fill="url(#ks)"/>
<circle cx="469.1" cy="541.05" r="2.6" fill="url(#ks)"/>
<circle cx="454.35" cy="541.08" r="2.6" fill="url(#ks)"/>
<circle cx="436.04" cy="541.11" r="2.6" fill="url(#ks)"/>
<circle cx="467.48" cy="541.15" r="2.6" fill="url(#ks)"/>
<circle cx="481.42" cy="541.35" r="2.6" fill="url(#ks)"/>
<circle cx="465.89" cy="541.46" r="2.6" fill="url(#ks)"/>
<circle cx="428.01" cy="541.68" r="2.6" fill="url(#ks)"/>
<circle cx="495.83" cy="541.86" r="2.6" fill="url(#ks)"/>
<circle cx="464.35" cy="541.96" r="2.6" fill="url(#ks)"/>
<circle cx="479.72" cy="542.07" r="2.6" fill="url(#ks)"/>
<circle cx="453.13" cy="542.11" r="2.6" fill="url(#ks)"/>
<circle cx="443.96" cy="542.15" r="2.6" fill="url(#ks)"/>
<circle cx="435.52" cy="542.59" r="2.6" fill="url(#ks)"/>
<circle cx="462.9" cy="542.66" r="2.6" fill="url(#ks)"/>
<circle cx="478.01" cy="542.78" r="2.6" fill="url(#ks)"/>
<circle cx="505.7" cy="543" r="2.6" fill="url(#ks)"/>
<circle cx="494.57" cy="543.2" r="2.6" fill="url(#ks)"/>
<circle cx="427.9" cy="543.25" r="2.6" fill="url(#ks)"/>
<circle cx="452.06" cy="543.29" r="2.6" fill="url(#ks)"/>
<circle cx="476.3" cy="543.5" r="2.6" fill="url(#ks)"/>
<circle cx="476.3" cy="543.5" r="2.6" fill="url(#ks)"/>
<circle cx="461.55" cy="543.53" r="2.6" fill="url(#ks)"/>
<circle cx="443.24" cy="543.56" r="2.6" fill="url(#ks)"/>
<circle cx="474.68" cy="543.6" r="2.6" fill="url(#ks)"/>
<circle cx="473.09" cy="543.91" r="2.6" fill="url(#ks)"/>
<circle cx="504.1" cy="544.12" r="2.6" fill="url(#ks)"/>
<circle cx="435.21" cy="544.13" r="2.6" fill="url(#ks)"/>
<circle cx="493.43" cy="544.41" r="2.6" fill="url(#ks)"/>
<circle cx="471.55" cy="544.41" r="2.6" fill="url(#ks)"/>
<circle cx="460.33" cy="544.56" r="2.6" fill="url(#ks)"/>
<circle cx="451.16" cy="544.6" r="2.6" fill="url(#ks)"/>
<circle cx="491.5" cy="544.95" r="2.6" fill="url(#ks)"/>
<circle cx="442.72" cy="545.04" r="2.6" fill="url(#ks)"/>
<circle cx="470.1" cy="545.11" r="2.6" fill="url(#ks)"/>
<circle cx="489.9" cy="545.15" r="2.6" fill="url(#ks)"/>
<circle cx="502.5" cy="545.24" r="2.6" fill="url(#ks)"/>
<circle cx="488.3" cy="545.35" r="2.6" fill="url(#ks)"/>
<circle cx="492.4" cy="545.5" r="2.6" fill="url(#ks)"/>
<circle cx="486.7" cy="545.55" r="2.6" fill="url(#ks)"/>
<circle cx="435.1" cy="545.7" r="2.6" fill="url(#ks)"/>
<circle cx="459.26" cy="545.74" r="2.6" fill="url(#ks)"/>
<circle cx="485.1" cy="545.75" r="2.6" fill="url(#ks)"/>
<circle cx="483.5" cy="545.95" r="2.6" fill="url(#ks)"/>
<circle cx="483.5" cy="545.95" r="2.6" fill="url(#ks)"/>
<circle cx="468.75" cy="545.98" r="2.6" fill="url(#ks)"/>
<circle cx="450.44" cy="546.01" r="2.6" fill="url(#ks)"/>
<circle cx="481.88" cy="546.05" r="2.6" fill="url(#ks)"/>
<circle cx="480.29" cy="546.36" r="2.6" fill="url(#ks)"/>
<circle cx="500.9" cy="546.36" r="2.6" fill="url(#ks)"/>
<circle cx="442.41" cy="546.58" r="2.6" fill="url(#ks)"/>
<circle cx="478.75" cy="546.86" r="2.6" fill="url(#ks)"/>
<circle cx="467.53" cy="547.01" r="2.6" fill="url(#ks)"/>
<circle cx="458.36" cy="547.05" r="2.6" fill="url(#ks)"/>
<circle cx="498.7" cy="547.4" r="2.6" fill="url(#ks)"/>
<circle cx="499.3" cy="547.48" r="2.6" fill="url(#ks)"/>
<circle cx="449.92" cy="547.49" r="2.6" fill="url(#ks)"/>
<circle cx="477.3" cy="547.56" r="2.6" fill="url(#ks)"/>
<circle cx="497.1" cy="547.6" r="2.6" fill="url(#ks)"/>
<circle cx="495.5" cy="547.8" r="2.6" fill="url(#ks)"/>
<circle cx="493.9" cy="548" r="2.6" fill="url(#ks)"/>
<circle cx="442.3" cy="548.15" r="2.6" fill="url(#ks)"/>
<circle cx="466.46" cy="548.19" r="2.6" fill="url(#ks)"/>
<circle cx="492.3" cy="548.2" r="2.6" fill="url(#ks)"/>
<circle cx="490.7" cy="548.4" r="2.6" fill="url(#ks)"/>
<circle cx="490.7" cy="548.4" r="2.6" fill="url(#ks)"/>
<circle cx="475.95" cy="548.43" r="2.6" fill="url(#ks)"/>
<circle cx="457.64" cy="548.46" r="2.6" fill="url(#ks)"/>
<circle cx="489.08" cy="548.5" r="2.6" fill="url(#ks)"/>
<circle cx="497.7" cy="548.6" r="2.6" fill="url(#ks)"/>
<circle cx="487.49" cy="548.81" r="2.6" fill="url(#ks)"/>
<circle cx="449.61" cy="549.03" r="2.6" fill="url(#ks)"/>
<circle cx="485.95" cy="549.31" r="2.6" fill="url(#ks)"/>
<circle cx="474.73" cy="549.46" r="2.6" fill="url(#ks)"/>
<circle cx="465.56" cy="549.5" r="2.6" fill="url(#ks)"/>
<circle cx="505.9" cy="549.85" r="2.6" fill="url(#ks)"/>
<circle cx="457.12" cy="549.94" r="2.6" fill="url(#ks)"/>
<circle cx="484.5" cy="550.01" r="2.6" fill="url(#ks)"/>
<circle cx="504.3" cy="550.05" r="2.6" fill="url(#ks)"/>
<circle cx="502.7" cy="550.25" r="2.6" fill="url(#ks)"/>
<circle cx="501.1" cy="550.45" r="2.6" fill="url(#ks)"/>
<circle cx="449.5" cy="550.6" r="2.6" fill="url(#ks)"/>
<circle cx="473.66" cy="550.64" r="2.6" fill="url(#ks)"/>
<circle cx="499.5" cy="550.65" r="2.6" fill="url(#ks)"/>
<circle cx="497.9" cy="550.85" r="2.6" fill="url(#ks)"/>
<circle cx="497.9" cy="550.85" r="2.6" fill="url(#ks)"/>
<circle cx="483.15" cy="550.88" r="2.6" fill="url(#ks)"/>
<circle cx="464.84" cy="550.91" r="2.6" fill="url(#ks)"/>
<circle cx="496.28" cy="550.95" r="2.6" fill="url(#ks)"/>
<circle cx="494.69" cy="551.26" r="2.6" fill="url(#ks)"/>
<circle cx="456.81" cy="551.48" r="2.6" fill="url(#ks)"/>
<circle cx="493.15" cy="551.76" r="2.6" fill="url(#ks)"/>
<circle cx="481.93" cy="551.91" r="2.6" fill="url(#ks)"/>
<circle cx="472.76" cy="551.95" r="2.6" fill="url(#ks)"/>
<circle cx="464.32" cy="552.39" r="2.6" fill="url(#ks)"/>
<circle cx="491.7" cy="552.46" r="2.6" fill="url(#ks)"/>
<circle cx="456.7" cy="553.05" r="2.6" fill="url(#ks)"/>
<circle cx="480.86" cy="553.09" r="2.6" fill="url(#ks)"/>
<circle cx="490.35" cy="553.33" r="2.6" fill="url(#ks)"/>
<circle cx="472.04" cy="553.36" r="2.6" fill="url(#ks)"/>
<circle cx="464.01" cy="553.93" r="2.6" fill="url(#ks)"/>
<circle cx="489.13" cy="554.36" r="2.6" fill="url(#ks)"/>
<circle cx="479.96" cy="554.4" r="2.6" fill="url(#ks)"/>
<circle cx="471.52" cy="554.84" r="2.6" fill="url(#ks)"/>
<circle cx="463.9" cy="555.5" r="2.6" fill="url(#ks)"/>
<circle cx="488.06" cy="555.54" r="2.6" fill="url(#ks)"/>
<circle cx="479.24" cy="555.81" r="2.6" fill="url(#ks)"/>
<circle cx="471.21" cy="556.38" r="2.6" fill="url(#ks)"/>
<circle cx="487.16" cy="556.85" r="2.6" fill="url(#ks)"/>
<circle cx="496.3" cy="556.9" r="2.9" fill="url(#ks)"/>
<circle cx="478.72" cy="557.29" r="2.6" fill="url(#ks)"/>
<circle cx="494.9" cy="557.7" r="2.9" fill="url(#ks)"/>
<circle cx="471.1" cy="557.95" r="2.6" fill="url(#ks)"/>
<circle cx="486.44" cy="558.26" r="2.6" fill="url(#ks)"/>
<circle cx="493.5" cy="558.5" r="2.9" fill="url(#ks)"/>
<circle cx="478.41" cy="558.83" r="2.6" fill="url(#ks)"/>
<circle cx="492.1" cy="559.3" r="2.9" fill="url(#ks)"/>
<circle cx="485.92" cy="559.74" r="2.6" fill="url(#ks)"/>
<circle cx="490.7" cy="560.1" r="2.9" fill="url(#ks)"/>
<circle cx="478.3" cy="560.4" r="2.6" fill="url(#ks)"/>
<circle cx="485.61" cy="561.28" r="2.6" fill="url(#ks)"/>
<circle cx="497.8" cy="561.9" r="2.9" fill="url(#ks)"/>
<circle cx="496.4" cy="562.7" r="2.9" fill="url(#ks)"/>
<circle cx="485.5" cy="562.85" r="2.6" fill="url(#ks)"/>
<circle cx="495" cy="563.5" r="2.9" fill="url(#ks)"/>
<circle cx="493.6" cy="564.3" r="2.9" fill="url(#ks)"/>
<circle cx="505.6" cy="564.8" r="2.9" fill="url(#ks)"/>
<circle cx="492.2" cy="565.1" r="2.9" fill="url(#ks)"/>
<circle cx="504.2" cy="565.6" r="2.9" fill="url(#ks)"/>
<circle cx="502.8" cy="566.4" r="2.9" fill="url(#ks)"/>
<circle cx="501.4" cy="567.2" r="2.9" fill="url(#ks)"/>
<circle cx="514.2" cy="567.6" r="2.9" fill="url(#ks)"/>
<circle cx="500" cy="568" r="2.9" fill="url(#ks)"/>
<circle cx="512.8" cy="568.4" r="2.9" fill="url(#ks)"/>
<circle cx="511.4" cy="569.2" r="2.9" fill="url(#ks)"/>
<circle cx="510" cy="570" r="2.9" fill="url(#ks)"/>
<circle cx="522" cy="570.5" r="2.9" fill="url(#ks)"/>
<circle cx="508.6" cy="570.8" r="2.9" fill="url(#ks)"/>
<circle cx="520.6" cy="571.3" r="2.9" fill="url(#ks)"/>
<circle cx="519.2" cy="572.1" r="2.9" fill="url(#ks)"/>
<circle cx="517.8" cy="572.9" r="2.9" fill="url(#ks)"/>
<circle cx="516.4" cy="573.7" r="2.9" fill="url(#ks)"/>
<circle cx="530.6" cy="574" r="2.9" fill="url(#ks)"/>
<circle cx="529.2" cy="574.8" r="2.9" fill="url(#ks)"/>
<circle cx="527.8" cy="575.6" r="2.9" fill="url(#ks)"/>
<circle cx="526.4" cy="576.4" r="2.9" fill="url(#ks)"/>
<circle cx="539.1" cy="576.9" r="2.9" fill="url(#ks)"/>
<circle cx="525" cy="577.2" r="2.9" fill="url(#ks)"/>
<circle cx="537.7" cy="577.7" r="2.9" fill="url(#ks)"/>
<circle cx="536.3" cy="578.5" r="2.9" fill="url(#ks)"/>
<circle cx="534.9" cy="579.3" r="2.9" fill="url(#ks)"/>
<circle cx="547.7" cy="579.7" r="2.9" fill="url(#ks)"/>
<circle cx="533.5" cy="580.1" r="2.9" fill="url(#ks)"/>
<circle cx="546.3" cy="580.5" r="2.9" fill="url(#ks)"/>
<circle cx="544.9" cy="581.3" r="2.9" fill="url(#ks)"/>
<circle cx="543.5" cy="582.1" r="2.9" fill="url(#ks)"/>
<circle cx="556.3" cy="582.6" r="2.9" fill="url(#ks)"/>
<circle cx="542.1" cy="582.9" r="2.9" fill="url(#ks)"/>
<circle cx="554.9" cy="583.4" r="2.9" fill="url(#ks)"/>
<circle cx="553.5" cy="584.2" r="2.9" fill="url(#ks)"/>
<circle cx="552.1" cy="585" r="2.9" fill="url(#ks)"/>
<circle cx="564.8" cy="585.4" r="2.9" fill="url(#ks)"/>
<circle cx="550.7" cy="585.8" r="2.9" fill="url(#ks)"/>
<circle cx="563.4" cy="586.2" r="2.9" fill="url(#ks)"/>
<circle cx="562" cy="587" r="2.9" fill="url(#ks)"/>
<circle cx="560.6" cy="587.8" r="2.9" fill="url(#ks)"/>
<circle cx="559.2" cy="588.6" r="2.9" fill="url(#ks)"/>
<text transform="translate(28,466) rotate(-90)" font-family="Liberation Serif" font-weight="bold" font-size="16" fill="#000" text-anchor="middle" textLength="109" lengthAdjust="spacingAndGlyphs">-Im (Z), (Ohms)</text>
<text transform="translate(61.9,574) rotate(18)" font-family="Liberation Serif" font-weight="bold" font-size="16" fill="#000" textLength="87.2" lengthAdjust="spacingAndGlyphs">Potential (V)</text>
<text transform="translate(27,592) rotate(17.4)" font-family="Liberation Serif" font-weight="bold" font-size="16" fill="#000" textLength="109.8" lengthAdjust="spacingAndGlyphs">3.0 V to 4.5 scan</text>
<line x1="28" y1="571" x2="143.16" y2="612.85" stroke="#000" stroke-width="1.5"/>
<polygon points="148.8,614.9 141.2,615.33 143.25,609.69" fill="#000" stroke="none" stroke-width="1"/>
<text transform="translate(248.8,614.2) rotate(-33.5)" font-family="Liberation Serif" font-weight="bold" font-size="16" fill="#000" textLength="106.6" lengthAdjust="spacingAndGlyphs">Re (Z), (Ohms)</text>
<text transform="translate(61.4,556.4) rotate(-30)" font-family="Liberation Sans" font-weight="bold" font-size="6.2" fill="#222" text-anchor="middle">2.8</text>
<text transform="translate(79.1,560.4) rotate(-30)" font-family="Liberation Sans" font-weight="bold" font-size="6.2" fill="#222" text-anchor="middle">3</text>
<text transform="translate(90.5,567.2) rotate(-30)" font-family="Liberation Sans" font-weight="bold" font-size="6.2" fill="#222" text-anchor="middle">3.2</text>
<text transform="translate(105.9,573.5) rotate(-30)" font-family="Liberation Sans" font-weight="bold" font-size="6.2" fill="#222" text-anchor="middle">3.4</text>
<text transform="translate(121.9,577.5) rotate(-30)" font-family="Liberation Sans" font-weight="bold" font-size="6.2" fill="#222" text-anchor="middle">3.6</text>
<text transform="translate(137.7,585.4) rotate(-30)" font-family="Liberation Sans" font-weight="bold" font-size="6.2" fill="#222" text-anchor="middle">3.8</text>
<text transform="translate(157.4,588.8) rotate(-30)" font-family="Liberation Sans" font-weight="bold" font-size="6.2" fill="#222" text-anchor="middle">4</text>
<text transform="translate(171,597.4) rotate(-30)" font-family="Liberation Sans" font-weight="bold" font-size="6.2" fill="#222" text-anchor="middle">4.2</text>
<text transform="translate(189,604.2) rotate(-30)" font-family="Liberation Sans" font-weight="bold" font-size="6.2" fill="#222" text-anchor="middle">4.4</text>
<text transform="translate(215,604.4) rotate(-20)" font-family="Liberation Sans" font-weight="bold" font-size="6.2" fill="#222" text-anchor="middle">0</text>
<text transform="translate(249.2,590.5) rotate(-20)" font-family="Liberation Sans" font-weight="bold" font-size="6.2" fill="#222" text-anchor="middle">200</text>
<text transform="translate(277,575.5) rotate(-20)" font-family="Liberation Sans" font-weight="bold" font-size="6.2" fill="#222" text-anchor="middle">400</text>
<text transform="translate(302.7,561.6) rotate(-20)" font-family="Liberation Sans" font-weight="bold" font-size="6.2" fill="#222" text-anchor="middle">600</text>
<text transform="translate(327.3,549.4) rotate(-20)" font-family="Liberation Sans" font-weight="bold" font-size="6.2" fill="#222" text-anchor="middle">800</text>
<text transform="translate(378,466.5) rotate(-90)" font-family="Liberation Serif" font-weight="bold" font-size="16" fill="#000" text-anchor="middle" textLength="108.4" lengthAdjust="spacingAndGlyphs">-Im (Z), (Ohms)</text>
<text transform="translate(419.9,579) rotate(19.4)" font-family="Liberation Serif" font-weight="bold" font-size="16" fill="#000" textLength="86.8" lengthAdjust="spacingAndGlyphs">Potential (V)</text>
<text transform="translate(384,598) rotate(17.8)" font-family="Liberation Serif" font-weight="bold" font-size="16" fill="#000" textLength="111" lengthAdjust="spacingAndGlyphs">3.0 V to 4.5 scan</text>
<line x1="395" y1="577" x2="498.15" y2="613.88" stroke="#000" stroke-width="1.5"/>
<polygon points="503.8,615.9 496.2,616.37 498.22,610.72" fill="#000" stroke="none" stroke-width="1"/>
<text transform="translate(606.5,612.3) rotate(-32.4)" font-family="Liberation Serif" font-weight="bold" font-size="16" fill="#000" textLength="108" lengthAdjust="spacingAndGlyphs">Re (Z), (Ohms)</text>
<text transform="translate(417.1,555.4) rotate(-30)" font-family="Liberation Sans" font-weight="bold" font-size="6.2" fill="#222" text-anchor="middle">3.2</text>
<text transform="translate(434.2,563) rotate(-30)" font-family="Liberation Sans" font-weight="bold" font-size="6.2" fill="#222" text-anchor="middle">3.4</text>
<text transform="translate(452.5,571) rotate(-30)" font-family="Liberation Sans" font-weight="bold" font-size="6.2" fill="#222" text-anchor="middle">3.6</text>
<text transform="translate(469.6,579) rotate(-30)" font-family="Liberation Sans" font-weight="bold" font-size="6.2" fill="#222" text-anchor="middle">3.8</text>
<text transform="translate(491.3,583.5) rotate(-30)" font-family="Liberation Sans" font-weight="bold" font-size="6.2" fill="#222" text-anchor="middle">4</text>
<text transform="translate(507.3,591.5) rotate(-30)" font-family="Liberation Sans" font-weight="bold" font-size="6.2" fill="#222" text-anchor="middle">4.2</text>
<text transform="translate(527.7,598.8) rotate(-30)" font-family="Liberation Sans" font-weight="bold" font-size="6.2" fill="#222" text-anchor="middle">4.4</text>
<text transform="translate(549.7,609.2) rotate(-30)" font-family="Liberation Sans" font-weight="bold" font-size="6.2" fill="#222" text-anchor="middle">4.6</text>
<text transform="translate(577.9,598.9) rotate(-20)" font-family="Liberation Sans" font-weight="bold" font-size="6.2" fill="#222" text-anchor="middle">0</text>
<text transform="translate(605.5,588.6) rotate(-20)" font-family="Liberation Sans" font-weight="bold" font-size="6.2" fill="#222" text-anchor="middle">200</text>
<text transform="translate(623.8,578.3) rotate(-20)" font-family="Liberation Sans" font-weight="bold" font-size="6.2" fill="#222" text-anchor="middle">400</text>
<text transform="translate(644.5,566.8) rotate(-20)" font-family="Liberation Sans" font-weight="bold" font-size="6.2" fill="#222" text-anchor="middle">600</text>
<text transform="translate(662.9,557.6) rotate(-20)" font-family="Liberation Sans" font-weight="bold" font-size="6.2" fill="#222" text-anchor="middle">800</text>
<text transform="translate(683.5,549.1) rotate(-20)" font-family="Liberation Sans" font-weight="bold" font-size="6.2" fill="#222" text-anchor="middle">1000</text>
<text x="53.9" y="679.9" font-family="Liberation Serif" font-weight="bold" font-size="24" fill="#000">(e)</text>
<text x="2" y="723" font-family="Liberation Sans" font-size="10.6" fill="#222" textLength="29.5" lengthAdjust="spacingAndGlyphs">Ohmic</text>
<text x="2" y="736.2" font-family="Liberation Sans" font-size="10.6" fill="#222" textLength="45" lengthAdjust="spacingAndGlyphs">Resistance</text>
<text x="2" y="749.2" font-family="Liberation Sans" font-size="10.6" fill="#222" textLength="27.5" lengthAdjust="spacingAndGlyphs">of the</text>
<text x="2" y="762" font-family="Liberation Sans" font-size="10.6" fill="#222" textLength="46.5" lengthAdjust="spacingAndGlyphs">electrolyte</text>
<polygon points="48.7,734.2 56.5,728.6 56.5,731.2 67,731.2 67,737.2 56.5,737.2 56.5,739.8" fill="#ffc000" stroke="#c08a00" stroke-width="0.5"/>
<ellipse cx="78" cy="733.2" rx="9.4" ry="5.6" fill="none" stroke="#ed7d31" stroke-width="1.1" stroke-dasharray="2,1.2"/>
<polyline points="70.5,733.5 72.3,733.5 73.2,731.3 74.6,735.6 76,731.3 77.4,735.6 78.8,731.3 80.2,735.6 81.6,731.3 83,735.6 84,733.5 92.8,733.5" fill="none" stroke="#999" stroke-width="0.9"/>
<text x="76" y="748.7" font-family="Liberation Sans" font-weight="bold" font-size="10" fill="#222">R<tspan font-size="6.5" dy="2">E</tspan></text>
<ellipse cx="121.3" cy="731.9" rx="32.7" ry="35.9" fill="none" stroke="#4472c4" stroke-width="1.1" stroke-dasharray="2.2,1.3"/>
<path d="M92.8,732.4 C93.2,727.2 97.2,727.2 97.2,732.4 C97.2,727.2 101.2,727.2 101.2,732.4 C101.2,727.2 105.2,727.2 105.2,732.4 C105.2,727.2 109.2,727.2 109.2,732.4  L116.4,732.4" fill="none" stroke="#999" stroke-width="0.9"/>
<text x="100.7" y="725.8" font-family="Liberation Sans" font-weight="bold" font-size="10" fill="#222">L</text>
<polyline points="125.5,718.2 116.4,718.2 116.4,745.7 126.6,745.7" fill="none" stroke="#999" stroke-width="0.9"/>
<polyline points="137.1,718.2 147,718.2 147,745.7 136.8,745.7" fill="none" stroke="#999" stroke-width="0.9"/>
<rect x="125.5" y="716.1" width="11.6" height="4.2" fill="#fff" stroke="#999" stroke-width="0.9"/>
<polyline points="126.6,745.7 127.45,743.5 129.15,746.1 130.85,743.5 132.55,746.1 134.25,743.5 135.95,746.1 136.8,745.7" fill="none" stroke="#999" stroke-width="0.9"/>
<polyline points="165.8,718.2 156.4,718.2 156.4,745.7 168.2,745.7" fill="none" stroke="#999" stroke-width="0.9"/>
<polyline points="177.3,718.2 188.6,718.2 188.6,745.7 178.4,745.7" fill="none" stroke="#999" stroke-width="0.9"/>
<rect x="165.8" y="716.1" width="11.5" height="4.2" fill="#fff" stroke="#999" stroke-width="0.9"/>
<polyline points="168.2,745.7 169.05,743.5 170.75,746.1 172.45,743.5 174.15,746.1 175.85,743.5 177.55,746.1 178.4,745.7" fill="none" stroke="#999" stroke-width="0.9"/>
<polyline points="207.4,718.2 197.9,718.2 197.9,745.2 209.3,745.2" fill="none" stroke="#999" stroke-width="0.9"/>
<polyline points="218.4,718.2 230.2,718.2 230.2,745.2 219.5,745.2" fill="none" stroke="#999" stroke-width="0.9"/>
<rect x="207.4" y="716.1" width="11" height="4.2" fill="#fff" stroke="#999" stroke-width="0.9"/>
<polyline points="209.3,745.2 210.15,743 211.85,745.6 213.55,743 215.25,745.6 216.95,743 218.65,745.6 219.5,745.2" fill="none" stroke="#999" stroke-width="0.9"/>
<polyline points="246.5,717 239.6,717 239.6,744.1 249.3,744.1" fill="none" stroke="#999" stroke-width="0.9"/>
<polyline points="257.5,717 268.2,717 268.2,744.1 255.6,744.1" fill="none" stroke="#999" stroke-width="0.9"/>
<rect x="246.5" y="714.9" width="11" height="4.2" fill="#fff" stroke="#999" stroke-width="0.9"/>
<polyline points="249.3,744.1 249.83,741.9 250.88,744.5 251.93,741.9 252.97,744.5 254.03,741.9 255.07,744.5 255.6,744.1" fill="none" stroke="#999" stroke-width="0.9"/>
<line x1="147" y1="732.4" x2="156.4" y2="732.4" stroke="#999" stroke-width="0.9"/>
<line x1="188.6" y1="732.2" x2="197.9" y2="732.2" stroke="#999" stroke-width="0.9"/>
<line x1="230.2" y1="731" x2="239.6" y2="731" stroke="#999" stroke-width="0.9"/>
<line x1="268.2" y1="730.5" x2="280" y2="730.5" stroke="#999" stroke-width="0.9"/>
<text x="127" y="711.2" font-family="Liberation Sans" font-weight="bold" font-size="10" fill="#222">Q<tspan font-size="6.5" dy="2.2">pc</tspan></text>
<text x="127.4" y="755.1" font-family="Liberation Sans" font-weight="bold" font-size="10" fill="#222">R<tspan font-size="6.5" dy="2.2">pc</tspan></text>
<text x="165.8" y="711.2" font-family="Liberation Sans" font-weight="bold" font-size="10" fill="#222">C<tspan font-size="6.5" dy="2.2">SEI</tspan></text>
<text x="168.6" y="756.5" font-family="Liberation Sans" font-weight="bold" font-size="10" fill="#222">R<tspan font-size="6.5" dy="2.2">CEI</tspan></text>
<text x="207" y="711.2" font-family="Liberation Sans" font-weight="bold" font-size="10" fill="#222">Q<tspan font-size="6.5" dy="2.2">CT</tspan></text>
<text x="211.7" y="755.1" font-family="Liberation Sans" font-weight="bold" font-size="10" fill="#222">R<tspan font-size="6.5" dy="2.2">CT</tspan></text>
<text x="249.3" y="711.2" font-family="Liberation Sans" font-weight="bold" font-size="10" fill="#222">C<tspan font-size="6.5" dy="2.2">dl</tspan></text>
<text x="249.3" y="755.9" font-family="Liberation Sans" font-weight="bold" font-size="10" fill="#222">Z<tspan font-size="6.5" dy="2.2">GFW</tspan></text>
<path d="M153.3,754.4 L153.3,760.5 Q153.3,762.6 155.5,762.6 L192,762.6 Q194.2,762.6 194.2,765.5 L194.2,770.9 M194.2,765.5 Q194.2,762.6 196.4,762.6 L233.8,762.6 Q236,762.6 236,760.5 L236,754.4" fill="none" stroke="#999" stroke-width="0.9"/>
<polygon points="275.2,742.2 284.4,749.7 288.4,746.1 289.2,760.7 273.8,760.7 277.4,756.9 268.7,749.6" fill="#ffc000" stroke="#c08a00" stroke-width="0.5"/>
<text x="273.5" y="774.7" font-family="Liberation Sans" font-size="11.5" fill="#222" textLength="89.7" lengthAdjust="spacingAndGlyphs">Generalized finite</text>
<text x="273.5" y="789.4" font-family="Liberation Sans" font-size="11.5" fill="#222" textLength="89.7" lengthAdjust="spacingAndGlyphs">Warburg element</text>
<text x="283.8" y="804.3" font-family="Liberation Sans" font-size="11.5" fill="#222" textLength="69.1" lengthAdjust="spacingAndGlyphs">indicating the</text>
<text x="268.7" y="819.4" font-family="Liberation Sans" font-size="11.5" fill="#222" textLength="99.3" lengthAdjust="spacingAndGlyphs">diffusion of Lithium</text>
<text x="273" y="834.3" font-family="Liberation Sans" font-size="11.5" fill="#222" textLength="90.7" lengthAdjust="spacingAndGlyphs">ions in the anode.</text>
<polygon points="89.5,757.5 110.5,771.5 98.5,791 109,797.5 74.5,803 66,769.5 77,776.5" fill="#ffc000" stroke="#b8860b" stroke-width="0.6"/>
<ellipse cx="53.4" cy="830.6" rx="36.3" ry="32.8" fill="#000" stroke="#9aa6b8" stroke-width="1.6"/>
<text x="24.8" y="877.4" font-family="Liberation Sans" font-size="11.2" fill="#333" textLength="65" lengthAdjust="spacingAndGlyphs">MNC Electrode</text>
<text x="6.8" y="891.1" font-family="Liberation Sans" font-weight="bold" font-size="11.8" fill="#f00" textLength="101.4" lengthAdjust="spacingAndGlyphs">Intrinsic Impedance</text>
<rect x="128.6" y="776.5" width="125.9" height="12.1" fill="#000"/>
<text x="134.7" y="786.2" font-family="Liberation Serif" font-weight="bold" font-size="9.2" fill="#fff" textLength="113.2" lengthAdjust="spacingAndGlyphs">INTERFACIAL IMPEDANCE</text>
<rect x="128.6" y="788.6" width="62.2" height="23.5" fill="#c9c9c9"/>
<rect x="191.4" y="788.6" width="63.1" height="23.5" fill="#c9c9c9"/>
<text x="160.3" y="798.8" font-family="Liberation Serif" font-weight="bold" font-size="8.8" fill="#333" text-anchor="middle" textLength="36" lengthAdjust="spacingAndGlyphs">At Higher</text>
<text x="160.3" y="808.6" font-family="Liberation Serif" font-weight="bold" font-size="8.8" fill="#333" text-anchor="middle" textLength="37.5" lengthAdjust="spacingAndGlyphs">Frequency</text>
<text x="223.4" y="798.8" font-family="Liberation Serif" font-weight="bold" font-size="8.8" fill="#333" text-anchor="middle" textLength="33.5" lengthAdjust="spacingAndGlyphs">At Lower</text>
<text x="223.4" y="808.6" font-family="Liberation Serif" font-weight="bold" font-size="8.8" fill="#333" text-anchor="middle" textLength="37.5" lengthAdjust="spacingAndGlyphs">Frequency</text>
<polygon points="147.1,812.9 152.3,812.9 152.3,821.5 155.7,821.5 149.7,829.1 143.7,821.5 147.1,821.5" fill="#959ca6" stroke="none" stroke-width="1"/>
<polygon points="225.4,812.9 230.6,812.9 230.6,821.5 234,821.5 228,829.1 222,821.5 225.4,821.5" fill="#959ca6" stroke="none" stroke-width="1"/>
<rect x="110.9" y="830.8" width="77.6" height="42.7" fill="#fff" stroke="#a6a6a6" stroke-width="0.9"/>
<text x="149.7" y="842.2" font-family="Liberation Serif" font-size="10.8" fill="#333" text-anchor="middle" textLength="67" lengthAdjust="spacingAndGlyphs">Interfacial Film</text>
<text x="149.7" y="855.2" font-family="Liberation Serif" font-size="10.8" fill="#333" text-anchor="middle" textLength="27.5" lengthAdjust="spacingAndGlyphs">on the</text>
<text x="149.7" y="868.2" font-family="Liberation Serif" font-size="10.8" fill="#333" text-anchor="middle" textLength="63" lengthAdjust="spacingAndGlyphs">Electrode-SEI</text>
<rect x="191.7" y="835.7" width="77.6" height="29.1" fill="#fff" stroke="#a6a6a6" stroke-width="0.9"/>
<text x="230.5" y="847.4" font-family="Liberation Sans" font-size="10.6" fill="#333" text-anchor="middle" textLength="68" lengthAdjust="spacingAndGlyphs">Charge-Transfer</text>
<text x="230.5" y="859.6" font-family="Liberation Sans" font-size="10.6" fill="#333" text-anchor="middle" textLength="33" lengthAdjust="spacingAndGlyphs">Process</text>
<text x="424.1" y="669.9" font-family="Liberation Serif" font-weight="bold" font-size="24" fill="#000">(f)</text>
<rect x="417.3" y="677.5" width="281.7" height="226" fill="none" stroke="#333" stroke-width="1"/>
<line x1="417.3" y1="676.9" x2="417.3" y2="904.1" stroke="#333" stroke-width="1.4"/>
<line x1="416.7" y1="903.5" x2="699.6" y2="903.5" stroke="#333" stroke-width="1.4"/>
<line x1="417.3" y1="903.5" x2="417.3" y2="907.5" stroke="#333" stroke-width="1.2"/>
<line x1="446.95" y1="903.5" x2="446.95" y2="907.5" stroke="#333" stroke-width="1.2"/>
<line x1="476.61" y1="903.5" x2="476.61" y2="907.5" stroke="#333" stroke-width="1.2"/>
<line x1="506.26" y1="903.5" x2="506.26" y2="907.5" stroke="#333" stroke-width="1.2"/>
<line x1="535.91" y1="903.5" x2="535.91" y2="907.5" stroke="#333" stroke-width="1.2"/>
<line x1="565.56" y1="903.5" x2="565.56" y2="907.5" stroke="#333" stroke-width="1.2"/>
<line x1="595.22" y1="903.5" x2="595.22" y2="907.5" stroke="#333" stroke-width="1.2"/>
<line x1="624.87" y1="903.5" x2="624.87" y2="907.5" stroke="#333" stroke-width="1.2"/>
<line x1="654.52" y1="903.5" x2="654.52" y2="907.5" stroke="#333" stroke-width="1.2"/>
<line x1="684.17" y1="903.5" x2="684.17" y2="907.5" stroke="#333" stroke-width="1.2"/>
<line x1="432.13" y1="903.5" x2="432.13" y2="905.7" stroke="#333" stroke-width="1.1"/>
<line x1="461.78" y1="903.5" x2="461.78" y2="905.7" stroke="#333" stroke-width="1.1"/>
<line x1="491.43" y1="903.5" x2="491.43" y2="905.7" stroke="#333" stroke-width="1.1"/>
<line x1="521.08" y1="903.5" x2="521.08" y2="905.7" stroke="#333" stroke-width="1.1"/>
<line x1="550.74" y1="903.5" x2="550.74" y2="905.7" stroke="#333" stroke-width="1.1"/>
<line x1="580.39" y1="903.5" x2="580.39" y2="905.7" stroke="#333" stroke-width="1.1"/>
<line x1="610.04" y1="903.5" x2="610.04" y2="905.7" stroke="#333" stroke-width="1.1"/>
<line x1="639.69" y1="903.5" x2="639.69" y2="905.7" stroke="#333" stroke-width="1.1"/>
<line x1="669.35" y1="903.5" x2="669.35" y2="905.7" stroke="#333" stroke-width="1.1"/>
<line x1="413.3" y1="887.36" x2="417.3" y2="887.36" stroke="#333" stroke-width="1.2"/>
<line x1="413.3" y1="855.07" x2="417.3" y2="855.07" stroke="#333" stroke-width="1.2"/>
<line x1="413.3" y1="822.79" x2="417.3" y2="822.79" stroke="#333" stroke-width="1.2"/>
<line x1="413.3" y1="790.5" x2="417.3" y2="790.5" stroke="#333" stroke-width="1.2"/>
<line x1="413.3" y1="758.21" x2="417.3" y2="758.21" stroke="#333" stroke-width="1.2"/>
<line x1="413.3" y1="725.93" x2="417.3" y2="725.93" stroke="#333" stroke-width="1.2"/>
<line x1="413.3" y1="693.64" x2="417.3" y2="693.64" stroke="#333" stroke-width="1.2"/>
<line x1="415.1" y1="903.5" x2="417.3" y2="903.5" stroke="#333" stroke-width="1.1"/>
<line x1="415.1" y1="871.21" x2="417.3" y2="871.21" stroke="#333" stroke-width="1.1"/>
<line x1="415.1" y1="838.93" x2="417.3" y2="838.93" stroke="#333" stroke-width="1.1"/>
<line x1="415.1" y1="806.64" x2="417.3" y2="806.64" stroke="#333" stroke-width="1.1"/>
<line x1="415.1" y1="774.36" x2="417.3" y2="774.36" stroke="#333" stroke-width="1.1"/>
<line x1="415.1" y1="742.07" x2="417.3" y2="742.07" stroke="#333" stroke-width="1.1"/>
<line x1="415.1" y1="709.79" x2="417.3" y2="709.79" stroke="#333" stroke-width="1.1"/>
<line x1="415.1" y1="677.5" x2="417.3" y2="677.5" stroke="#333" stroke-width="1.1"/>
<text x="417.3" y="919.2" font-family="Liberation Sans" font-weight="bold" font-size="9.2" fill="#1a1a1a" text-anchor="middle">2.8</text>
<text x="446.95" y="919.2" font-family="Liberation Sans" font-weight="bold" font-size="9.2" fill="#1a1a1a" text-anchor="middle">3</text>
<text x="476.61" y="919.2" font-family="Liberation Sans" font-weight="bold" font-size="9.2" fill="#1a1a1a" text-anchor="middle">3.2</text>
<text x="506.26" y="919.2" font-family="Liberation Sans" font-weight="bold" font-size="9.2" fill="#1a1a1a" text-anchor="middle">3.4</text>
<text x="535.91" y="919.2" font-family="Liberation Sans" font-weight="bold" font-size="9.2" fill="#1a1a1a" text-anchor="middle">3.6</text>
<text x="565.56" y="919.2" font-family="Liberation Sans" font-weight="bold" font-size="9.2" fill="#1a1a1a" text-anchor="middle">3.8</text>
<text x="595.22" y="919.2" font-family="Liberation Sans" font-weight="bold" font-size="9.2" fill="#1a1a1a" text-anchor="middle">4</text>
<text x="624.87" y="919.2" font-family="Liberation Sans" font-weight="bold" font-size="9.2" fill="#1a1a1a" text-anchor="middle">4.2</text>
<text x="654.52" y="919.2" font-family="Liberation Sans" font-weight="bold" font-size="9.2" fill="#1a1a1a" text-anchor="middle">4.4</text>
<text x="684.17" y="919.2" font-family="Liberation Sans" font-weight="bold" font-size="9.2" fill="#1a1a1a" text-anchor="middle">4.6</text>
<text x="409" y="890.46" font-family="Liberation Sans" font-weight="bold" font-size="9.2" fill="#1a1a1a" text-anchor="end">0</text>
<text x="409" y="858.17" font-family="Liberation Sans" font-weight="bold" font-size="9.2" fill="#1a1a1a" text-anchor="end">20</text>
<text x="409" y="825.89" font-family="Liberation Sans" font-weight="bold" font-size="9.2" fill="#1a1a1a" text-anchor="end">40</text>
<text x="409" y="793.6" font-family="Liberation Sans" font-weight="bold" font-size="9.2" fill="#1a1a1a" text-anchor="end">60</text>
<text x="409" y="761.31" font-family="Liberation Sans" font-weight="bold" font-size="9.2" fill="#1a1a1a" text-anchor="end">80</text>
<text x="409" y="729.03" font-family="Liberation Sans" font-weight="bold" font-size="9.2" fill="#1a1a1a" text-anchor="end">100</text>
<text x="409" y="696.74" font-family="Liberation Sans" font-weight="bold" font-size="9.2" fill="#1a1a1a" text-anchor="end">120</text>
<polyline points="446.95,774.03 458.81,769.84 470.67,764.99 484.02,764.99 495.88,761.12 507.74,758.05 521.08,766.61 532.95,770 544.81,773.87 558.15,777.26 570.01,778.55 581.87,781.46 595.22,784.85 618.94,784.85 632.28,786.95 644.14,787.27 656,786.46 669.35,790.5" fill="none" stroke="#555" stroke-width="0.9"/>
<polyline points="446.95,847.81 458.81,847.81 470.67,847.16 484.02,839.9 495.88,870.57 507.74,883.64 521.08,696.39 532.95,841.51 544.81,850.07 558.15,862.98 570.01,866.37 581.87,859.59 595.22,856.04 618.94,878.16 632.28,877.19 644.14,866.53 656,867.82 669.35,867.82" fill="none" stroke="#ff7070" stroke-width="0.9"/>
<circle cx="446.95" cy="774.03" r="2.6" fill="#000"/>
<circle cx="458.81" cy="769.84" r="2.6" fill="#000"/>
<circle cx="470.67" cy="764.99" r="2.6" fill="#000"/>
<circle cx="484.02" cy="764.99" r="2.6" fill="#000"/>
<circle cx="495.88" cy="761.12" r="2.6" fill="#000"/>
<circle cx="507.74" cy="758.05" r="2.6" fill="#000"/>
<circle cx="521.08" cy="766.61" r="2.6" fill="#000"/>
<circle cx="532.95" cy="770" r="2.6" fill="#000"/>
<circle cx="544.81" cy="773.87" r="2.6" fill="#000"/>
<circle cx="558.15" cy="777.26" r="2.6" fill="#000"/>
<circle cx="570.01" cy="778.55" r="2.6" fill="#000"/>
<circle cx="581.87" cy="781.46" r="2.6" fill="#000"/>
<circle cx="595.22" cy="784.85" r="2.6" fill="#000"/>
<circle cx="618.94" cy="784.85" r="2.6" fill="#000"/>
<circle cx="632.28" cy="786.95" r="2.6" fill="#000"/>
<circle cx="644.14" cy="787.27" r="2.6" fill="#000"/>
<circle cx="656" cy="786.46" r="2.6" fill="#000"/>
<circle cx="669.35" cy="790.5" r="2.6" fill="#000"/>
<rect x="444.45" y="845.31" width="5" height="5" fill="#f00"/>
<rect x="456.31" y="845.31" width="5" height="5" fill="#f00"/>
<rect x="468.17" y="844.66" width="5" height="5" fill="#f00"/>
<rect x="481.52" y="837.4" width="5" height="5" fill="#f00"/>
<rect x="493.38" y="868.07" width="5" height="5" fill="#f00"/>
<rect x="505.24" y="881.14" width="5" height="5" fill="#f00"/>
<rect x="518.58" y="693.89" width="5" height="5" fill="#f00"/>
<rect x="530.45" y="839.01" width="5" height="5" fill="#f00"/>
<rect x="542.31" y="847.57" width="5" height="5" fill="#f00"/>
<rect x="555.65" y="860.48" width="5" height="5" fill="#f00"/>
<rect x="567.51" y="863.87" width="5" height="5" fill="#f00"/>
<rect x="579.37" y="857.09" width="5" height="5" fill="#f00"/>
<rect x="592.72" y="853.54" width="5" height="5" fill="#f00"/>
<rect x="616.44" y="875.66" width="5" height="5" fill="#f00"/>
<rect x="629.78" y="874.69" width="5" height="5" fill="#f00"/>
<rect x="641.64" y="864.03" width="5" height="5" fill="#f00"/>
<rect x="653.5" y="865.32" width="5" height="5" fill="#f00"/>
<rect x="666.85" y="865.32" width="5" height="5" fill="#f00"/>
<line x1="576.5" y1="685.3" x2="601.8" y2="685.3" stroke="#ff7070" stroke-width="0.9"/>
<rect x="586.2" y="682.8" width="5" height="5" fill="#f00"/>
<line x1="576.5" y1="700" x2="601.8" y2="700" stroke="#555" stroke-width="0.9"/>
<circle cx="588.7" cy="700" r="2.6" fill="#000"/>
<text x="605.5" y="689.3" font-family="Liberation Serif" font-weight="bold" font-size="11.7" fill="#000" textLength="88.8" lengthAdjust="spacingAndGlyphs">DMBAP Additive</text>
<text x="605.5" y="704.2" font-family="Liberation Serif" font-weight="bold" font-size="11.7" fill="#000" textLength="39" lengthAdjust="spacingAndGlyphs">Control</text>
<text x="506.5" y="938.3" font-family="Liberation Serif" font-weight="bold" font-size="15.6" fill="#000" textLength="85.6" lengthAdjust="spacingAndGlyphs">Potential (V)</text>
<g transform="translate(387,827.7) rotate(-90)"><text x="0" y="0" font-family="Liberation Serif" font-weight="bold" font-size="16.5">R<tspan font-size="10.5" dy="3.5">CEI</tspan><tspan dy="-3.5">(Ohm)</tspan></text></g></svg></body></html>
